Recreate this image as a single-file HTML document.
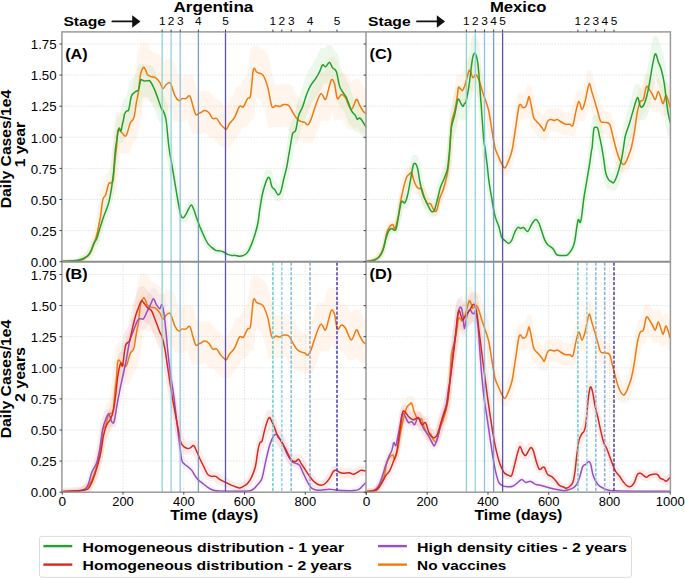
<!DOCTYPE html><html><head><meta charset="utf-8"><style>html,body{margin:0;padding:0;background:#fff;}svg{display:block;}text{font-family:"Liberation Sans", sans-serif;fill:#000;}</style></head><body>
<svg width="685" height="579" viewBox="0 0 685 579">
<rect x="0" y="0" width="685" height="579" fill="#fff"/>
<defs><filter id="bl" x="-5%" y="-5%" width="110%" height="110%"><feGaussianBlur stdDeviation="0.6"/></filter>
<clipPath id="cA"><rect x="61.9" y="31.9" width="304.1" height="229.79999999999998"/></clipPath>
<clipPath id="cB"><rect x="61.9" y="261.7" width="304.1" height="230.5"/></clipPath>
<clipPath id="cC"><rect x="366.0" y="31.9" width="304.4" height="229.79999999999998"/></clipPath>
<clipPath id="cD"><rect x="366.0" y="261.7" width="304.4" height="230.5"/></clipPath>
</defs>
<g stroke="#e3e3e3" stroke-width="0.9" stroke-dasharray="1.6,1.3" fill="none"><line x1="61.9" y1="230.6" x2="366.0" y2="230.6"/><line x1="61.9" y1="199.5" x2="366.0" y2="199.5"/><line x1="61.9" y1="168.4" x2="366.0" y2="168.4"/><line x1="61.9" y1="137.3" x2="366.0" y2="137.3"/><line x1="61.9" y1="106.2" x2="366.0" y2="106.2"/><line x1="61.9" y1="75.1" x2="366.0" y2="75.1"/><line x1="61.9" y1="44.0" x2="366.0" y2="44.0"/><line x1="366.0" y1="230.6" x2="670.4" y2="230.6"/><line x1="366.0" y1="199.5" x2="670.4" y2="199.5"/><line x1="366.0" y1="168.4" x2="670.4" y2="168.4"/><line x1="366.0" y1="137.3" x2="670.4" y2="137.3"/><line x1="366.0" y1="106.2" x2="670.4" y2="106.2"/><line x1="366.0" y1="75.1" x2="670.4" y2="75.1"/><line x1="366.0" y1="44.0" x2="670.4" y2="44.0"/><line x1="61.9" y1="461.1" x2="366.0" y2="461.1"/><line x1="61.9" y1="430.0" x2="366.0" y2="430.0"/><line x1="61.9" y1="398.9" x2="366.0" y2="398.9"/><line x1="61.9" y1="367.8" x2="366.0" y2="367.8"/><line x1="61.9" y1="336.7" x2="366.0" y2="336.7"/><line x1="61.9" y1="305.6" x2="366.0" y2="305.6"/><line x1="61.9" y1="274.5" x2="366.0" y2="274.5"/><line x1="366.0" y1="461.1" x2="670.4" y2="461.1"/><line x1="366.0" y1="430.0" x2="670.4" y2="430.0"/><line x1="366.0" y1="398.9" x2="670.4" y2="398.9"/><line x1="366.0" y1="367.8" x2="670.4" y2="367.8"/><line x1="366.0" y1="336.7" x2="670.4" y2="336.7"/><line x1="366.0" y1="305.6" x2="670.4" y2="305.6"/><line x1="366.0" y1="274.5" x2="670.4" y2="274.5"/><line x1="123.0" y1="261.7" x2="123.0" y2="492.2"/><line x1="183.8" y1="261.7" x2="183.8" y2="492.2"/><line x1="244.5" y1="261.7" x2="244.5" y2="492.2"/><line x1="305.3" y1="261.7" x2="305.3" y2="492.2"/><line x1="427.2" y1="261.7" x2="427.2" y2="492.2"/><line x1="488.0" y1="261.7" x2="488.0" y2="492.2"/><line x1="548.7" y1="261.7" x2="548.7" y2="492.2"/><line x1="609.5" y1="261.7" x2="609.5" y2="492.2"/></g>
<polygon points="62.0,259.1 63.0,259.1 64.0,259.0 65.0,259.0 66.0,259.0 67.0,258.9 68.0,258.9 69.0,258.8 70.0,258.8 71.0,258.7 72.0,258.7 73.0,258.7 74.0,258.6 75.0,258.6 76.0,258.5 77.0,258.5 78.0,257.9 79.0,257.3 80.0,256.7 81.0,256.0 82.0,255.4 83.0,254.7 84.0,254.0 85.0,253.2 86.0,251.4 87.0,249.7 88.0,248.0 89.0,245.9 90.0,243.0 91.0,240.0 92.0,237.1 93.0,233.7 94.0,229.4 95.0,224.8 96.0,219.1 97.0,213.3 98.0,207.0 99.0,198.9 100.0,192.1 101.0,189.7 102.0,187.1 103.0,184.0 104.0,180.2 105.0,176.3 106.0,173.5 107.0,172.7 108.0,172.0 109.0,170.6 110.0,168.1 111.0,159.2 112.0,148.1 113.0,139.5 114.0,127.4 115.0,116.8 116.0,114.6 117.0,113.3 118.0,112.2 119.0,112.0 120.0,112.2 121.0,112.3 122.0,112.4 123.0,113.6 124.0,114.7 125.0,113.1 126.0,109.6 127.0,106.5 128.0,104.1 129.0,102.6 130.0,100.7 131.0,98.2 132.0,92.4 133.0,85.7 134.0,79.8 135.0,73.9 136.0,66.1 137.0,57.0 138.1,51.2 139.1,48.0 140.1,44.5 141.1,43.5 142.1,43.2 143.1,42.9 144.1,42.8 145.1,43.0 146.1,43.2 147.1,43.5 148.1,44.9 149.1,46.8 150.1,49.3 151.1,50.8 152.1,51.3 153.1,51.8 154.1,52.4 155.1,52.8 156.1,53.1 157.1,53.5 158.1,53.9 159.1,54.7 160.1,55.9 161.1,57.2 162.1,58.4 163.1,60.3 164.1,61.0 165.1,60.2 166.1,59.6 167.1,59.5 168.1,59.4 169.1,59.4 170.1,59.4 171.1,59.6 172.1,59.9 173.1,61.0 174.1,62.4 175.1,65.6 176.1,68.6 177.1,71.6 178.1,74.4 179.1,75.7 180.1,76.9 181.1,77.1 182.1,77.0 183.1,76.8 184.1,76.2 185.1,75.5 186.1,74.9 187.1,74.8 188.1,74.7 189.1,74.6 190.1,74.7 191.1,75.1 192.1,75.5 193.1,76.3 194.1,79.8 195.1,83.4 196.1,86.8 197.1,89.7 198.1,92.6 199.1,92.0 200.1,91.5 201.1,90.9 202.1,90.7 203.1,90.7 204.1,90.6 205.1,90.6 206.1,90.6 207.1,90.7 208.1,90.8 209.1,91.4 210.1,92.0 211.1,92.7 212.1,93.8 213.1,95.4 214.1,96.9 215.1,98.4 216.1,99.3 217.1,99.4 218.1,99.6 219.1,99.8 220.1,100.5 221.1,102.2 222.1,103.8 223.1,105.5 224.1,106.8 225.1,107.9 226.1,106.5 227.1,104.8 228.1,103.4 229.1,102.0 230.1,100.6 231.1,99.3 232.1,97.4 233.1,95.0 234.1,92.7 235.1,90.2 236.1,87.7 237.1,86.6 238.1,86.4 239.1,86.1 240.1,86.0 241.1,84.7 242.1,82.7 243.1,80.7 244.1,78.6 245.1,77.0 246.1,75.7 247.1,74.5 248.1,68.4 249.1,59.4 250.1,50.4 251.1,47.7 252.1,46.6 253.1,45.5 254.1,45.3 255.1,45.4 256.1,45.5 257.1,45.5 258.1,46.3 259.1,47.0 260.1,47.6 261.1,48.2 262.1,48.7 263.1,49.1 264.1,49.7 265.1,51.0 266.1,52.3 267.1,53.9 268.1,57.1 269.1,60.5 270.1,63.8 271.1,67.7 272.1,72.8 273.1,77.5 274.1,82.2 275.1,84.8 276.1,84.8 277.1,84.9 278.1,84.9 279.1,84.7 280.1,84.2 281.1,83.9 282.1,83.8 283.1,83.7 284.1,83.7 285.1,83.7 286.1,83.8 287.1,83.8 288.1,84.0 289.1,84.3 290.1,84.7 291.2,85.1 292.2,86.1 293.2,88.0 294.2,89.9 295.2,91.8 296.2,93.6 297.2,95.3 298.2,97.0 299.2,98.6 300.2,99.9 301.2,100.7 302.2,101.4 303.2,102.2 304.2,102.8 305.2,103.1 306.2,103.4 307.2,102.6 308.2,100.2 309.2,97.0 310.2,93.9 311.2,90.6 312.2,87.4 313.2,84.3 314.2,81.2 315.2,78.1 316.2,75.8 317.2,74.2 318.2,72.5 319.2,72.2 320.2,72.1 321.2,71.9 322.2,72.0 323.2,72.2 324.2,72.3 325.2,69.2 326.2,65.6 327.2,61.9 328.2,58.2 329.2,57.7 330.2,57.3 331.2,56.9 332.2,56.8 333.2,57.0 334.2,57.2 335.2,57.6 336.2,59.5 337.2,61.5 338.2,65.4 339.2,70.4 340.2,72.8 341.2,72.7 342.2,72.7 343.2,72.8 344.2,72.9 345.2,73.4 346.2,74.3 347.2,75.3 348.2,76.3 349.2,78.3 350.2,80.6 351.2,82.8 352.2,81.2 353.2,79.0 354.2,78.7 355.2,78.5 356.2,78.3 357.2,78.4 358.2,78.6 359.2,78.8 360.2,80.3 361.2,82.2 362.2,84.1 363.2,86.0 364.2,87.9 365.2,89.8 366.2,91.6 366.2,133.2 365.2,133.3 364.2,133.4 363.2,133.4 362.2,133.0 361.2,132.5 360.2,132.1 359.2,130.5 358.2,128.9 357.2,127.4 356.2,127.1 355.2,128.8 354.2,130.1 353.2,129.9 352.2,129.7 351.2,129.5 350.2,129.7 349.2,130.0 348.2,130.2 347.2,128.4 346.2,126.7 345.2,124.8 344.2,122.9 343.2,121.0 342.2,119.3 341.2,119.8 340.2,119.6 339.2,119.5 338.2,119.4 337.2,119.4 336.2,120.1 335.2,120.7 334.2,120.8 333.2,115.8 332.2,111.1 331.2,114.4 330.2,117.3 329.2,120.2 328.2,121.5 327.2,121.1 326.2,120.7 325.2,120.5 324.2,120.7 323.2,120.9 322.2,121.1 321.2,120.8 320.2,123.4 319.2,126.0 318.2,128.5 317.2,131.0 316.2,133.7 315.2,136.3 314.2,139.0 313.2,140.9 312.2,142.1 311.2,143.2 310.2,143.4 309.2,143.2 308.2,143.0 307.2,143.0 306.2,143.1 305.2,143.2 304.2,143.3 303.2,142.4 302.2,141.6 301.2,141.1 300.2,140.9 299.2,140.7 298.2,140.6 297.2,140.1 296.2,139.5 295.2,139.0 294.2,138.4 293.2,137.4 292.2,136.1 291.2,134.7 290.1,133.4 289.1,132.0 288.1,130.3 287.1,128.6 286.1,126.9 285.1,126.2 284.1,126.7 283.1,127.2 282.1,127.1 281.1,127.0 280.1,127.0 279.1,127.0 278.1,127.0 277.1,127.0 276.1,127.1 275.1,127.2 274.1,127.1 273.1,127.1 272.1,127.1 271.1,127.5 270.1,128.1 269.1,128.6 268.1,125.7 267.1,121.3 266.1,116.9 265.1,112.5 264.1,109.6 263.1,107.0 262.1,104.3 261.1,101.6 260.1,100.4 259.1,99.5 258.1,98.5 257.1,98.1 256.1,97.9 255.1,106.0 254.1,115.0 253.1,120.7 252.1,120.6 251.1,120.6 250.1,121.2 249.1,123.1 248.1,125.0 247.1,126.8 246.1,127.8 245.1,127.6 244.1,127.4 243.1,127.2 242.1,128.1 241.1,130.3 240.1,132.5 239.1,134.6 238.1,136.6 237.1,138.1 236.1,139.0 235.1,139.9 234.1,140.9 233.1,142.0 232.1,143.3 231.1,144.9 230.1,146.5 229.1,147.8 228.1,147.6 227.1,147.4 226.1,147.2 225.1,147.3 224.1,147.4 223.1,147.5 222.1,146.9 221.1,146.2 220.1,145.5 219.1,144.7 218.1,143.8 217.1,142.8 216.1,141.3 215.1,139.8 214.1,138.3 213.1,137.7 212.1,137.8 211.1,138.0 210.1,138.2 209.1,137.4 208.1,136.0 207.1,134.6 206.1,133.2 205.1,132.3 204.1,132.5 203.1,132.9 202.1,133.3 201.1,133.7 200.1,133.9 199.1,134.2 198.1,134.2 197.1,134.1 196.1,134.1 195.1,134.3 194.1,134.7 193.1,135.0 192.1,133.4 191.1,130.8 190.1,128.2 189.1,125.1 188.1,121.9 187.1,120.3 186.1,120.2 185.1,120.2 184.1,120.7 183.1,121.4 182.1,122.1 181.1,122.0 180.1,121.9 179.1,121.8 178.1,121.9 177.1,122.1 176.1,122.2 175.1,121.5 174.1,120.5 173.1,119.6 172.1,118.7 171.1,116.5 170.1,113.7 169.1,110.9 168.1,109.4 167.1,110.6 166.1,111.9 165.1,111.7 164.1,111.5 163.1,111.4 162.1,111.6 161.1,111.8 160.1,112.0 159.1,110.6 158.1,108.9 157.1,107.0 156.1,105.4 155.1,104.5 154.1,103.5 153.1,102.5 152.1,101.8 151.1,101.6 150.1,101.4 149.1,101.2 148.1,100.9 147.1,100.5 146.1,100.3 145.1,100.1 144.1,98.8 143.1,103.7 142.1,111.8 141.1,118.6 140.1,123.2 139.1,127.7 138.1,133.5 137.0,138.4 136.0,140.0 135.0,140.8 134.0,141.2 133.0,143.0 132.0,145.7 131.0,149.0 130.0,152.2 129.0,153.6 128.0,153.7 127.0,153.3 126.0,153.1 125.0,153.0 124.0,153.2 123.0,153.3 122.0,153.4 121.0,152.5 120.0,158.0 119.0,169.1 118.0,177.4 117.0,187.3 116.0,194.7 115.0,196.2 114.0,195.9 113.0,195.2 112.0,195.3 111.0,197.7 110.0,201.3 109.0,204.9 108.0,206.9 107.0,208.2 106.0,209.5 105.0,215.4 104.0,222.6 103.0,228.2 102.0,232.8 101.0,237.2 100.0,240.8 99.0,244.1 98.0,246.5 97.0,248.7 96.0,251.0 95.0,253.3 94.0,254.9 93.0,256.2 92.0,257.5 91.0,259.0 90.0,259.6 89.0,260.0 88.0,260.4 87.0,260.9 86.0,261.4 85.0,261.7 84.0,261.7 83.0,261.7 82.0,261.7 81.0,261.7 80.0,261.7 79.0,261.7 78.0,261.7 77.0,261.7 76.0,261.7 75.0,261.7 74.0,261.7 73.0,261.7 72.0,261.7 71.0,261.7 70.0,261.7 69.0,261.7 68.0,261.7 67.0,261.7 66.0,261.7 65.0,261.7 64.0,261.7 63.0,261.7 62.0,261.7" fill="#ff7f0e" fill-opacity="0.075" clip-path="url(#cA)" filter="url(#bl)"/>
<polygon points="62.0,259.6 63.0,259.6 64.0,259.5 65.0,259.4 66.0,259.4 67.0,259.3 68.0,259.2 69.0,259.2 70.0,259.1 71.0,259.0 72.0,259.0 73.0,258.9 74.0,258.8 75.0,258.8 76.0,258.6 77.0,258.2 78.0,257.7 79.0,257.3 80.0,256.8 81.0,256.3 82.0,255.8 83.0,255.3 84.0,254.9 85.0,254.3 86.0,253.0 87.0,251.7 88.0,250.3 89.0,248.7 90.0,245.9 91.0,243.1 92.0,240.5 93.0,238.6 94.0,236.8 95.0,234.6 96.0,231.2 97.0,227.7 98.0,224.1 99.0,220.8 100.0,217.5 101.0,214.2 102.0,211.0 103.0,208.0 104.0,204.9 105.0,201.9 106.0,198.9 107.0,195.1 108.0,189.6 109.0,184.0 110.0,177.4 111.0,169.0 112.0,159.1 113.0,146.1 114.0,136.1 115.0,128.6 116.0,120.7 117.0,117.1 118.0,116.5 119.0,116.3 120.0,114.2 121.0,109.8 122.0,104.2 123.0,100.5 124.0,98.6 125.0,97.5 126.0,97.0 127.0,94.5 128.0,89.9 129.0,84.6 130.0,81.0 131.0,79.6 132.0,78.3 133.0,77.2 134.0,76.3 135.0,75.6 136.0,74.9 137.0,72.0 138.1,67.5 139.1,64.7 140.1,64.2 141.1,64.0 142.1,64.0 143.1,64.0 144.1,64.0 145.1,64.5 146.1,64.8 147.1,64.8 148.1,64.8 149.1,64.8 150.1,65.0 151.1,65.4 152.1,65.9 153.1,67.3 154.1,69.5 155.1,71.7 156.1,73.9 157.1,76.2 158.1,79.0 159.1,82.0 160.1,85.0 161.1,88.1 162.1,91.0 163.1,94.0 164.1,96.0 165.1,97.6 166.1,100.9 167.1,104.6 168.1,108.8 169.1,119.0 170.1,129.0 171.1,138.4 172.1,144.8 173.1,151.3 174.1,157.7 175.1,164.2 176.1,170.6 177.1,177.1 178.1,183.5 179.1,189.9 180.1,196.1 181.1,201.4 182.1,206.4 183.1,210.5 184.1,208.9 185.1,206.8 186.1,204.7 187.1,202.7 188.1,201.2 189.1,199.7 190.1,199.5 191.1,199.4 192.1,199.5 193.1,199.7 194.1,200.7 195.1,202.9 196.1,205.3 197.1,208.6 198.1,211.8 199.1,214.9 200.1,217.7 201.1,220.6 202.1,223.3 203.1,225.8 204.1,228.3 205.1,230.7 206.1,233.1 207.1,235.2 208.1,237.3 209.1,239.4 210.1,241.0 211.1,242.1 212.1,243.2 213.1,244.2 214.1,245.2 215.1,246.0 216.1,246.8 217.1,247.6 218.1,248.1 219.1,248.2 220.1,248.3 221.1,248.4 222.1,248.6 223.1,249.0 224.1,249.3 225.1,249.6 226.1,250.1 227.1,250.8 228.1,251.4 229.1,252.1 230.1,252.5 231.1,252.8 232.1,253.0 233.1,253.3 234.1,253.4 235.1,253.4 236.1,253.4 237.1,253.4 238.1,253.6 239.1,253.8 240.1,253.8 241.1,253.5 242.1,253.0 243.1,252.2 244.1,251.4 245.1,250.6 246.1,249.0 247.1,246.9 248.1,244.8 249.1,242.6 250.1,239.9 251.1,236.8 252.1,233.7 253.1,230.5 254.1,226.6 255.1,222.3 256.1,217.5 257.1,210.0 258.1,202.5 259.1,195.9 260.1,189.6 261.1,185.4 262.1,181.2 263.1,177.3 264.1,174.6 265.1,171.9 266.1,170.0 267.1,169.9 268.1,169.7 269.1,169.8 270.1,169.9 271.1,170.7 272.1,172.3 273.1,176.3 274.1,179.6 275.1,180.7 276.1,181.8 277.1,183.1 278.1,184.9 279.1,183.3 280.1,178.9 281.1,174.4 282.1,169.9 283.1,165.6 284.1,161.2 285.1,156.3 286.1,149.9 287.1,143.7 288.1,137.6 289.1,131.6 290.1,125.7 291.2,121.8 292.2,120.3 293.2,119.0 294.2,116.2 295.2,111.1 296.2,105.9 297.2,101.8 298.2,99.2 299.2,96.6 300.2,94.2 301.2,91.4 302.2,88.2 303.2,84.9 304.2,81.6 305.2,78.7 306.2,76.3 307.2,73.8 308.2,71.4 309.2,69.5 310.2,67.9 311.2,66.4 312.2,64.9 313.2,63.4 314.2,61.7 315.2,59.9 316.2,58.0 317.2,56.1 318.2,53.8 319.2,51.3 320.2,48.8 321.2,48.2 322.2,48.1 323.2,48.0 324.2,48.1 325.2,47.8 326.2,46.6 327.2,45.3 328.2,45.2 329.2,45.1 330.2,45.2 331.2,45.4 332.2,46.4 333.2,48.3 334.2,50.2 335.2,51.6 336.2,52.7 337.2,54.0 338.2,55.4 339.2,59.6 340.2,64.5 341.2,69.3 342.2,72.0 343.2,74.2 344.2,76.3 345.2,78.0 346.2,79.6 347.2,81.2 348.2,82.9 349.2,85.5 350.2,88.4 351.2,91.2 352.2,94.0 353.2,96.7 354.2,98.2 355.2,99.5 356.2,101.0 357.2,102.4 358.2,104.3 359.2,105.5 360.2,105.5 361.2,105.6 362.2,105.7 363.2,107.1 364.2,108.8 365.2,110.4 366.2,112.0 366.2,139.6 365.2,139.7 364.2,139.8 363.2,138.4 362.2,137.0 361.2,135.6 360.2,134.2 359.2,132.7 358.2,132.1 357.2,132.1 356.2,132.2 355.2,132.4 354.2,130.5 353.2,128.7 352.2,127.5 351.2,126.4 350.2,125.4 349.2,124.2 348.2,121.7 347.2,119.3 346.2,116.9 345.2,114.4 344.2,112.1 343.2,110.7 342.2,109.4 341.2,108.1 340.2,106.6 339.2,104.8 338.2,103.2 337.2,101.0 336.2,96.7 335.2,92.1 334.2,88.4 333.2,87.4 332.2,86.5 331.2,85.6 330.2,84.5 329.2,82.7 328.2,83.4 327.2,83.8 326.2,83.7 325.2,83.7 324.2,83.7 323.2,85.2 322.2,87.5 321.2,89.5 320.2,91.0 319.2,92.6 318.2,94.2 317.2,95.7 316.2,96.9 315.2,98.2 314.2,99.4 313.2,100.7 312.2,102.3 311.2,104.4 310.2,106.5 309.2,108.6 308.2,111.0 307.2,113.9 306.2,116.8 305.2,119.6 304.2,122.0 303.2,124.0 302.2,126.0 301.2,128.0 300.2,131.6 299.2,136.4 298.2,141.0 297.2,143.4 296.2,144.0 295.2,144.8 294.2,148.2 293.2,153.6 292.2,158.8 291.2,164.0 290.1,169.5 289.1,175.0 288.1,179.2 287.1,182.7 286.1,186.3 285.1,190.2 284.1,194.2 283.1,198.1 282.1,199.9 281.1,200.6 280.1,201.5 279.1,201.4 278.1,201.3 277.1,201.4 276.1,201.5 275.1,200.7 274.1,199.1 273.1,197.5 272.1,196.4 271.1,195.7 270.1,195.0 269.1,191.9 268.1,190.2 267.1,192.4 266.1,195.8 265.1,199.4 264.1,202.9 263.1,208.3 262.1,214.0 261.1,220.6 260.1,227.4 259.1,231.3 258.1,234.8 257.1,238.2 256.1,240.8 255.1,243.4 254.1,246.1 253.1,248.4 252.1,250.2 251.1,252.0 250.1,253.8 249.1,255.2 248.1,255.8 247.1,256.4 246.1,257.1 245.1,257.6 244.1,257.8 243.1,257.9 242.1,258.1 241.1,258.2 240.1,258.2 239.1,258.2 238.1,258.2 237.1,258.2 236.1,258.0 235.1,257.8 234.1,257.5 233.1,257.4 232.1,257.4 231.1,257.4 230.1,257.4 229.1,257.3 228.1,257.1 227.1,256.9 226.1,256.7 225.1,256.3 224.1,255.8 223.1,255.2 222.1,254.6 221.1,254.2 220.1,253.9 219.1,253.6 218.1,253.3 217.1,253.1 216.1,253.0 215.1,253.0 214.1,252.9 213.1,252.5 212.1,251.8 211.1,251.1 210.1,250.5 209.1,249.7 208.1,248.7 207.1,247.9 206.1,247.0 205.1,245.6 204.1,243.8 203.1,242.0 202.1,240.2 201.1,238.2 200.1,236.1 199.1,233.9 198.1,231.8 197.1,229.5 196.1,227.1 195.1,224.7 194.1,222.1 193.1,219.2 192.1,216.4 191.1,214.2 190.1,215.9 189.1,217.8 188.1,219.7 187.1,221.0 186.1,222.2 185.1,222.5 184.1,222.4 183.1,222.3 182.1,222.4 181.1,222.5 180.1,222.0 179.1,221.6 178.1,217.8 177.1,213.3 176.1,208.8 175.1,203.5 174.1,198.0 173.1,192.5 172.1,187.0 171.1,181.5 170.1,176.0 169.1,170.6 168.1,165.3 167.1,160.1 166.1,152.0 165.1,142.7 164.1,133.5 163.1,130.3 162.1,127.4 161.1,124.5 160.1,123.4 159.1,121.8 158.1,119.2 157.1,116.7 156.1,114.1 155.1,111.4 154.1,108.8 153.1,106.4 152.1,104.5 151.1,102.7 150.1,100.8 149.1,98.8 148.1,97.5 147.1,97.2 146.1,97.0 145.1,97.0 144.1,97.0 143.1,97.0 142.1,98.8 141.1,103.2 140.1,105.8 139.1,106.1 138.1,106.5 137.0,107.3 136.0,108.3 135.0,109.2 134.0,110.1 133.0,113.3 132.0,118.3 131.0,122.7 130.0,124.7 129.0,124.6 128.0,125.4 127.0,126.7 126.0,130.0 125.0,135.2 124.0,139.4 123.0,143.2 122.0,142.8 121.0,142.5 120.0,143.6 119.0,150.9 118.0,157.1 117.0,165.8 116.0,177.6 115.0,186.3 114.0,193.2 113.0,198.7 112.0,203.3 111.0,208.2 110.0,211.3 109.0,213.7 108.0,216.2 107.0,218.8 106.0,221.3 105.0,224.1 104.0,226.9 103.0,229.7 102.0,232.5 101.0,235.5 100.0,238.6 99.0,241.7 98.0,243.5 97.0,244.8 96.0,246.3 95.0,248.6 94.0,251.1 93.0,253.6 92.0,255.0 91.0,256.0 90.0,257.1 89.0,258.3 88.0,258.7 87.0,259.1 86.0,259.5 85.0,259.9 84.0,260.3 83.0,260.7 82.0,261.1 81.0,261.5 80.0,261.7 79.0,261.7 78.0,261.7 77.0,261.7 76.0,261.7 75.0,261.7 74.0,261.7 73.0,261.7 72.0,261.7 71.0,261.7 70.0,261.7 69.0,261.7 68.0,261.7 67.0,261.7 66.0,261.7 65.0,261.7 64.0,261.7 63.0,261.7 62.0,261.7" fill="#2ca02c" fill-opacity="0.075" clip-path="url(#cA)" filter="url(#bl)"/>
<polygon points="62.0,489.6 63.0,489.6 64.0,489.5 65.0,489.5 66.0,489.5 67.0,489.4 68.0,489.4 69.0,489.3 70.0,489.3 71.0,489.2 72.0,489.2 73.0,489.2 74.0,489.1 75.0,489.1 76.0,489.0 77.0,489.0 78.0,488.4 79.0,487.8 80.0,487.2 81.0,486.5 82.0,485.9 83.0,485.2 84.0,484.5 85.0,483.7 86.0,481.9 87.0,480.2 88.0,478.5 89.0,476.4 90.0,473.5 91.0,470.5 92.0,467.6 93.0,464.2 94.0,459.9 95.0,455.3 96.0,449.6 97.0,443.8 98.0,437.5 99.0,429.4 100.0,422.6 101.0,420.2 102.0,417.6 103.0,414.5 104.0,410.7 105.0,406.8 106.0,404.0 107.0,403.2 108.0,402.5 109.0,401.1 110.0,398.6 111.0,389.7 112.0,378.6 113.0,370.0 114.0,357.9 115.0,347.3 116.0,345.1 117.0,343.8 118.0,342.7 119.0,342.5 120.0,342.7 121.0,342.8 122.0,342.9 123.0,344.1 124.0,345.2 125.0,343.6 126.0,340.1 127.0,337.0 128.0,334.6 129.0,333.1 130.0,331.2 131.0,328.7 132.0,322.9 133.0,316.2 134.0,310.3 135.0,304.4 136.0,296.6 137.0,287.5 138.1,281.7 139.1,278.5 140.1,275.0 141.1,274.0 142.1,273.7 143.1,273.4 144.1,273.3 145.1,273.5 146.1,273.7 147.1,274.0 148.1,275.4 149.1,277.3 150.1,279.8 151.1,281.3 152.1,281.8 153.1,282.3 154.1,282.9 155.1,283.3 156.1,283.6 157.1,284.0 158.1,284.4 159.1,285.2 160.1,286.4 161.1,287.7 162.1,288.9 163.1,290.8 164.1,291.5 165.1,290.7 166.1,290.1 167.1,290.0 168.1,289.9 169.1,289.9 170.1,289.9 171.1,290.1 172.1,290.4 173.1,291.5 174.1,292.9 175.1,296.1 176.1,299.1 177.1,302.1 178.1,304.9 179.1,306.2 180.1,307.4 181.1,307.6 182.1,307.5 183.1,307.3 184.1,306.7 185.1,306.0 186.1,305.4 187.1,305.3 188.1,305.2 189.1,305.1 190.1,305.2 191.1,305.6 192.1,306.0 193.1,306.8 194.1,310.3 195.1,313.9 196.1,317.3 197.1,320.2 198.1,323.1 199.1,322.5 200.1,322.0 201.1,321.4 202.1,321.2 203.1,321.2 204.1,321.1 205.1,321.1 206.1,321.1 207.1,321.2 208.1,321.3 209.1,321.9 210.1,322.5 211.1,323.2 212.1,324.3 213.1,325.9 214.1,327.4 215.1,328.9 216.1,329.8 217.1,329.9 218.1,330.1 219.1,330.3 220.1,331.0 221.1,332.7 222.1,334.3 223.1,336.0 224.1,337.3 225.1,338.4 226.1,337.0 227.1,335.3 228.1,333.9 229.1,332.5 230.1,331.1 231.1,329.8 232.1,327.9 233.1,325.5 234.1,323.2 235.1,320.7 236.1,318.2 237.1,317.1 238.1,316.9 239.1,316.6 240.1,316.5 241.1,315.2 242.1,313.2 243.1,311.2 244.1,309.1 245.1,307.5 246.1,306.2 247.1,305.0 248.1,298.9 249.1,289.9 250.1,280.9 251.1,278.2 252.1,277.1 253.1,276.0 254.1,275.8 255.1,275.9 256.1,276.0 257.1,276.0 258.1,276.8 259.1,277.5 260.1,278.1 261.1,278.7 262.1,279.2 263.1,279.6 264.1,280.2 265.1,281.5 266.1,282.8 267.1,284.4 268.1,287.6 269.1,291.0 270.1,294.3 271.1,298.2 272.1,303.3 273.1,308.0 274.1,312.7 275.1,315.3 276.1,315.3 277.1,315.4 278.1,315.4 279.1,315.2 280.1,314.7 281.1,314.4 282.1,314.3 283.1,314.2 284.1,314.2 285.1,314.2 286.1,314.3 287.1,314.3 288.1,314.5 289.1,314.8 290.1,315.2 291.2,315.6 292.2,316.6 293.2,318.5 294.2,320.4 295.2,322.3 296.2,324.1 297.2,325.8 298.2,327.5 299.2,329.1 300.2,330.4 301.2,331.2 302.2,331.9 303.2,332.7 304.2,333.3 305.2,333.6 306.2,333.9 307.2,333.1 308.2,330.7 309.2,327.5 310.2,324.4 311.2,321.1 312.2,317.9 313.2,314.8 314.2,311.7 315.2,308.6 316.2,306.3 317.2,304.7 318.2,303.0 319.2,302.7 320.2,302.6 321.2,302.4 322.2,302.5 323.2,302.7 324.2,302.8 325.2,299.7 326.2,296.1 327.2,292.4 328.2,288.7 329.2,288.2 330.2,287.8 331.2,287.4 332.2,287.3 333.2,287.5 334.2,287.7 335.2,288.1 336.2,290.0 337.2,292.0 338.2,295.9 339.2,300.9 340.2,303.3 341.2,303.2 342.2,303.2 343.2,303.3 344.2,303.4 345.2,303.9 346.2,304.8 347.2,305.8 348.2,306.8 349.2,308.8 350.2,311.1 351.2,313.3 352.2,311.7 353.2,309.5 354.2,309.2 355.2,309.0 356.2,308.8 357.2,308.9 358.2,309.1 359.2,309.3 360.2,310.8 361.2,312.7 362.2,314.6 363.2,316.5 364.2,318.4 365.2,320.3 366.2,322.1 366.2,363.7 365.2,363.8 364.2,363.9 363.2,363.9 362.2,363.5 361.2,363.0 360.2,362.6 359.2,361.0 358.2,359.4 357.2,357.9 356.2,357.6 355.2,359.3 354.2,360.6 353.2,360.4 352.2,360.2 351.2,360.0 350.2,360.2 349.2,360.5 348.2,360.7 347.2,358.9 346.2,357.2 345.2,355.3 344.2,353.4 343.2,351.5 342.2,349.8 341.2,350.3 340.2,350.1 339.2,350.0 338.2,349.9 337.2,349.9 336.2,350.6 335.2,351.2 334.2,351.3 333.2,346.3 332.2,341.6 331.2,344.9 330.2,347.8 329.2,350.7 328.2,352.0 327.2,351.6 326.2,351.2 325.2,351.0 324.2,351.2 323.2,351.4 322.2,351.6 321.2,351.3 320.2,353.9 319.2,356.5 318.2,359.0 317.2,361.5 316.2,364.2 315.2,366.8 314.2,369.5 313.2,371.4 312.2,372.6 311.2,373.7 310.2,373.9 309.2,373.7 308.2,373.5 307.2,373.5 306.2,373.6 305.2,373.7 304.2,373.8 303.2,372.9 302.2,372.1 301.2,371.6 300.2,371.4 299.2,371.2 298.2,371.1 297.2,370.6 296.2,370.0 295.2,369.5 294.2,368.9 293.2,367.9 292.2,366.6 291.2,365.2 290.1,363.9 289.1,362.5 288.1,360.8 287.1,359.1 286.1,357.4 285.1,356.7 284.1,357.2 283.1,357.7 282.1,357.6 281.1,357.5 280.1,357.5 279.1,357.5 278.1,357.5 277.1,357.5 276.1,357.6 275.1,357.7 274.1,357.6 273.1,357.6 272.1,357.6 271.1,358.0 270.1,358.6 269.1,359.1 268.1,356.2 267.1,351.8 266.1,347.4 265.1,343.0 264.1,340.1 263.1,337.5 262.1,334.8 261.1,332.1 260.1,330.9 259.1,330.0 258.1,329.0 257.1,328.6 256.1,328.4 255.1,336.5 254.1,345.5 253.1,351.2 252.1,351.1 251.1,351.1 250.1,351.7 249.1,353.6 248.1,355.5 247.1,357.3 246.1,358.3 245.1,358.1 244.1,357.9 243.1,357.7 242.1,358.6 241.1,360.8 240.1,363.0 239.1,365.1 238.1,367.1 237.1,368.6 236.1,369.5 235.1,370.4 234.1,371.4 233.1,372.5 232.1,373.8 231.1,375.4 230.1,377.0 229.1,378.3 228.1,378.1 227.1,377.9 226.1,377.7 225.1,377.8 224.1,377.9 223.1,378.0 222.1,377.4 221.1,376.7 220.1,376.0 219.1,375.2 218.1,374.3 217.1,373.3 216.1,371.8 215.1,370.3 214.1,368.8 213.1,368.2 212.1,368.3 211.1,368.5 210.1,368.7 209.1,367.9 208.1,366.5 207.1,365.1 206.1,363.7 205.1,362.8 204.1,363.0 203.1,363.4 202.1,363.8 201.1,364.2 200.1,364.4 199.1,364.7 198.1,364.7 197.1,364.6 196.1,364.6 195.1,364.8 194.1,365.2 193.1,365.5 192.1,363.9 191.1,361.3 190.1,358.7 189.1,355.6 188.1,352.4 187.1,350.8 186.1,350.7 185.1,350.7 184.1,351.2 183.1,351.9 182.1,352.6 181.1,352.5 180.1,352.4 179.1,352.3 178.1,352.4 177.1,352.6 176.1,352.7 175.1,352.0 174.1,351.0 173.1,350.1 172.1,349.2 171.1,347.0 170.1,344.2 169.1,341.4 168.1,339.9 167.1,341.1 166.1,342.4 165.1,342.2 164.1,342.0 163.1,341.9 162.1,342.1 161.1,342.3 160.1,342.5 159.1,341.1 158.1,339.4 157.1,337.5 156.1,335.9 155.1,335.0 154.1,334.0 153.1,333.0 152.1,332.3 151.1,332.1 150.1,331.9 149.1,331.7 148.1,331.4 147.1,331.0 146.1,330.8 145.1,330.6 144.1,329.3 143.1,334.2 142.1,342.3 141.1,349.1 140.1,353.7 139.1,358.2 138.1,364.0 137.0,368.9 136.0,370.5 135.0,371.3 134.0,371.7 133.0,373.5 132.0,376.2 131.0,379.5 130.0,382.7 129.0,384.1 128.0,384.2 127.0,383.8 126.0,383.6 125.0,383.5 124.0,383.7 123.0,383.8 122.0,383.9 121.0,383.0 120.0,388.5 119.0,399.6 118.0,407.9 117.0,417.8 116.0,425.2 115.0,426.7 114.0,426.4 113.0,425.7 112.0,425.8 111.0,428.2 110.0,431.8 109.0,435.4 108.0,437.4 107.0,438.7 106.0,440.0 105.0,445.9 104.0,453.1 103.0,458.7 102.0,463.3 101.0,467.7 100.0,471.3 99.0,474.6 98.0,477.0 97.0,479.2 96.0,481.5 95.0,483.8 94.0,485.4 93.0,486.7 92.0,488.0 91.0,489.5 90.0,490.1 89.0,490.5 88.0,490.9 87.0,491.4 86.0,491.9 85.0,492.2 84.0,492.2 83.0,492.2 82.0,492.2 81.0,492.2 80.0,492.2 79.0,492.2 78.0,492.2 77.0,492.2 76.0,492.2 75.0,492.2 74.0,492.2 73.0,492.2 72.0,492.2 71.0,492.2 70.0,492.2 69.0,492.2 68.0,492.2 67.0,492.2 66.0,492.2 65.0,492.2 64.0,492.2 63.0,492.2 62.0,492.2" fill="#ff7f0e" fill-opacity="0.075" clip-path="url(#cB)" filter="url(#bl)"/>
<polygon points="62.0,487.8 63.0,487.8 64.0,487.7 65.0,487.7 66.0,487.6 67.0,487.6 68.0,487.5 69.0,487.4 70.0,487.4 71.0,487.3 72.0,487.3 73.0,487.2 74.0,487.2 75.0,487.1 76.0,487.0 77.0,487.0 78.0,486.9 79.0,486.9 80.0,486.8 81.0,486.7 82.0,486.6 83.0,485.9 84.0,485.2 85.0,484.5 86.0,483.8 87.0,483.1 88.0,482.0 89.0,479.6 90.0,477.1 91.0,474.6 92.0,472.1 93.0,469.4 94.0,465.9 95.0,462.5 96.0,458.8 97.0,454.6 98.0,450.4 99.0,445.7 100.0,439.3 101.0,432.9 102.0,427.3 103.0,423.6 104.0,419.9 105.0,417.0 106.0,415.3 107.0,413.7 108.0,412.1 109.0,409.9 110.0,406.5 111.0,403.1 112.0,398.3 113.0,391.2 114.0,383.3 115.0,373.9 116.0,365.9 117.0,360.7 118.0,355.5 119.0,353.1 120.0,352.8 121.0,351.3 122.0,344.7 123.0,337.9 124.0,333.3 125.0,331.6 126.0,330.1 127.0,328.8 128.0,326.1 129.0,321.7 130.0,317.3 131.0,312.9 132.0,308.6 133.0,304.4 134.0,300.7 135.0,297.7 136.0,294.8 137.0,292.1 138.1,289.6 139.1,287.2 140.1,286.6 141.1,286.4 142.1,286.4 143.1,286.5 144.1,286.5 145.1,287.6 146.1,288.7 147.1,289.9 148.1,291.3 149.1,292.6 150.1,293.7 151.1,294.5 152.1,295.3 153.1,296.2 154.1,298.0 155.1,300.6 156.1,303.2 157.1,305.9 158.1,308.7 159.1,311.5 160.1,314.3 161.1,317.1 162.1,319.9 163.1,322.2 164.1,324.6 165.1,329.2 166.1,333.9 167.1,338.7 168.1,345.7 169.1,352.8 170.1,359.8 171.1,366.7 172.1,373.7 173.1,380.5 174.1,387.2 175.1,393.0 176.1,398.8 177.1,404.6 178.1,410.4 179.1,416.0 180.1,421.6 181.1,427.1 182.1,432.1 183.1,436.5 184.1,437.9 185.1,439.3 186.1,440.5 187.1,441.1 188.1,441.6 189.1,441.3 190.1,440.6 191.1,439.9 192.1,439.8 193.1,439.8 194.1,439.8 195.1,439.9 196.1,440.2 197.1,442.3 198.1,444.4 199.1,446.6 200.1,449.1 201.1,451.5 202.1,453.9 203.1,456.0 204.1,458.2 205.1,460.4 206.1,462.5 207.1,464.6 208.1,466.7 209.1,468.7 210.1,470.1 211.1,470.6 212.1,471.2 213.1,471.7 214.1,472.0 215.1,472.0 216.1,472.0 217.1,472.0 218.1,472.4 219.1,473.2 220.1,474.0 221.1,474.8 222.1,475.5 223.1,476.0 224.1,476.5 225.1,477.1 226.1,477.6 227.1,478.1 228.1,478.6 229.1,479.2 230.1,479.7 231.1,480.2 232.1,480.8 233.1,481.3 234.1,481.7 235.1,482.1 236.1,482.4 237.1,482.8 238.1,483.1 239.1,483.4 240.1,483.1 241.1,482.7 242.1,482.0 243.1,481.3 244.1,480.5 245.1,479.7 246.1,478.5 247.1,477.0 248.1,475.4 249.1,473.8 250.1,471.4 251.1,468.5 252.1,465.6 253.1,462.6 254.1,457.1 255.1,450.5 256.1,444.2 257.1,440.1 258.1,436.3 259.1,435.4 260.1,434.0 261.1,429.8 262.1,425.6 263.1,421.4 264.1,418.3 265.1,415.3 266.1,412.3 267.1,410.3 268.1,410.2 269.1,410.1 270.1,410.1 271.1,410.2 272.1,411.7 273.1,413.1 274.1,414.8 275.1,417.3 276.1,419.7 277.1,422.3 278.1,425.1 279.1,427.8 280.1,430.3 281.1,431.7 282.1,433.1 283.1,434.7 284.1,436.5 285.1,438.3 286.1,440.2 287.1,442.3 288.1,444.4 289.1,446.5 290.1,448.5 291.2,450.4 292.2,452.2 293.2,453.9 294.2,455.1 295.2,455.1 296.2,454.4 297.2,454.4 298.2,454.3 299.2,454.3 300.2,454.4 301.2,454.9 302.2,456.7 303.2,458.5 304.2,460.1 305.2,461.7 306.2,463.3 307.2,464.8 308.2,466.4 309.2,468.1 310.2,469.7 311.2,471.3 312.2,472.7 313.2,474.1 314.2,475.4 315.2,476.7 316.2,477.7 317.2,478.4 318.2,479.2 319.2,479.9 320.2,480.4 321.2,480.4 322.2,479.9 323.2,479.4 324.2,478.4 325.2,477.1 326.2,475.8 327.2,474.5 328.2,472.9 329.2,471.1 330.2,469.2 331.2,467.4 332.2,466.5 333.2,466.0 334.2,465.6 335.2,465.6 336.2,465.6 337.2,465.6 338.2,465.6 339.2,466.1 340.2,466.8 341.2,467.5 342.2,467.8 343.2,468.1 344.2,468.4 345.2,468.3 346.2,468.2 347.2,468.1 348.2,468.0 349.2,468.0 350.2,468.1 351.2,468.1 352.2,468.5 353.2,468.8 354.2,468.3 355.2,467.7 356.2,467.2 357.2,466.7 358.2,466.1 359.2,465.6 360.2,465.6 361.2,465.5 362.2,465.5 363.2,465.6 364.2,465.7 365.2,465.9 366.2,466.1 366.2,476.1 365.2,476.1 364.2,476.1 363.2,475.9 362.2,475.7 361.2,476.2 360.2,476.6 359.2,477.1 358.2,477.6 357.2,478.0 356.2,478.5 355.2,478.9 354.2,478.9 353.2,478.8 352.2,478.9 351.2,478.9 350.2,478.5 349.2,478.1 348.2,477.7 347.2,477.8 346.2,477.9 345.2,477.9 344.2,477.9 343.2,477.9 342.2,477.9 341.2,477.9 340.2,477.7 339.2,477.4 338.2,477.2 337.2,476.9 336.2,476.3 335.2,476.7 334.2,478.4 333.2,480.1 332.2,481.7 331.2,483.2 330.2,484.3 329.2,485.5 328.2,486.6 327.2,487.5 326.2,488.0 325.2,488.4 324.2,488.9 323.2,489.1 322.2,489.1 321.2,489.0 320.2,489.1 319.2,489.1 318.2,488.8 317.2,488.6 316.2,488.4 315.2,488.0 314.2,487.3 313.2,486.6 312.2,486.0 311.2,485.1 310.2,483.9 309.2,482.7 308.2,481.6 307.2,480.3 306.2,478.9 305.2,477.4 304.2,476.0 303.2,474.5 302.2,473.2 301.2,471.8 300.2,470.4 299.2,468.9 298.2,467.3 297.2,466.7 296.2,466.6 295.2,466.6 294.2,466.6 293.2,466.6 292.2,466.4 291.2,466.2 290.1,466.1 289.1,465.0 288.1,463.3 287.1,461.7 286.1,460.1 285.1,458.3 284.1,456.5 283.1,454.6 282.1,452.7 281.1,451.0 280.1,449.4 279.1,447.8 278.1,446.4 277.1,445.2 276.1,444.0 275.1,441.9 274.1,439.3 273.1,436.8 272.1,434.5 271.1,432.3 270.1,430.1 269.1,430.6 268.1,433.3 267.1,435.9 266.1,439.7 265.1,443.7 264.1,447.6 263.1,448.5 262.1,449.0 261.1,452.3 260.1,456.0 259.1,461.8 258.1,467.9 257.1,473.0 256.1,475.4 255.1,477.9 254.1,480.5 253.1,482.6 252.1,484.0 251.1,485.3 250.1,486.7 249.1,487.8 248.1,488.5 247.1,489.1 246.1,489.8 245.1,490.4 244.1,490.7 243.1,491.1 242.1,491.5 241.1,491.6 240.1,491.6 239.1,491.5 238.1,491.6 237.1,491.6 236.1,491.3 235.1,491.0 234.1,490.7 233.1,490.4 232.1,490.1 231.1,489.8 230.1,489.5 229.1,489.1 228.1,488.7 227.1,488.2 226.1,487.7 225.1,487.3 224.1,486.8 223.1,486.3 222.1,485.8 221.1,485.4 220.1,484.9 219.1,484.4 218.1,484.0 217.1,483.4 216.1,482.7 215.1,481.9 214.1,481.2 213.1,480.8 212.1,480.8 211.1,480.9 210.1,480.9 209.1,480.6 208.1,480.2 207.1,479.7 206.1,479.4 205.1,478.1 204.1,476.2 203.1,474.4 202.1,472.5 201.1,470.6 200.1,468.7 199.1,466.8 198.1,464.9 197.1,462.8 196.1,460.6 195.1,458.4 194.1,456.4 193.1,454.4 192.1,454.1 191.1,454.4 190.1,454.7 189.1,454.6 188.1,454.6 187.1,454.6 186.1,454.7 185.1,454.4 184.1,453.9 183.1,453.5 182.1,453.1 181.1,452.0 180.1,450.9 179.1,449.9 178.1,445.9 177.1,441.2 176.1,436.3 175.1,431.3 174.1,426.4 173.1,421.2 172.1,416.1 171.1,411.0 170.1,405.9 169.1,399.9 168.1,393.8 167.1,387.6 166.1,381.5 165.1,375.3 164.1,368.9 163.1,362.5 162.1,358.3 161.1,354.1 160.1,350.0 159.1,348.0 158.1,346.1 157.1,343.6 156.1,341.1 155.1,338.6 154.1,336.1 153.1,333.6 152.1,331.2 151.1,328.9 150.1,326.5 149.1,324.9 148.1,324.2 147.1,323.5 146.1,322.8 145.1,321.9 144.1,320.7 143.1,319.4 142.1,319.1 141.1,321.4 140.1,323.7 139.1,326.3 138.1,329.0 137.0,332.2 136.0,336.0 135.0,339.8 134.0,343.7 133.0,347.8 132.0,351.8 131.0,354.2 130.0,355.2 129.0,356.3 128.0,357.4 127.0,361.6 126.0,368.2 125.0,374.6 124.0,376.5 123.0,376.1 122.0,377.2 121.0,381.9 120.0,386.5 119.0,393.7 118.0,402.4 117.0,409.6 116.0,416.0 115.0,420.1 114.0,423.0 113.0,426.1 112.0,428.0 111.0,429.2 110.0,430.6 109.0,432.0 108.0,434.6 107.0,437.9 106.0,441.0 105.0,446.0 104.0,452.0 103.0,457.8 102.0,461.9 101.0,465.6 100.0,469.3 99.0,472.5 98.0,475.6 97.0,478.7 96.0,481.1 95.0,483.2 94.0,485.5 93.0,487.7 92.0,490.0 91.0,490.9 90.0,491.4 89.0,492.0 88.0,492.2 87.0,492.2 86.0,492.2 85.0,492.2 84.0,492.2 83.0,492.2 82.0,492.2 81.0,492.2 80.0,492.2 79.0,492.2 78.0,492.2 77.0,492.2 76.0,492.2 75.0,492.2 74.0,492.2 73.0,492.2 72.0,492.2 71.0,492.2 70.0,492.2 69.0,492.2 68.0,492.2 67.0,492.2 66.0,492.2 65.0,492.2 64.0,492.2 63.0,492.2 62.0,492.2" fill="#d62728" fill-opacity="0.075" clip-path="url(#cB)" filter="url(#bl)"/>
<polygon points="62.0,489.5 63.0,489.5 64.0,489.4 65.0,489.3 66.0,489.2 67.0,489.2 68.0,489.1 69.0,489.0 70.0,488.9 71.0,488.9 72.0,488.8 73.0,488.7 74.0,488.6 75.0,488.6 76.0,488.5 77.0,488.4 78.0,488.4 79.0,488.3 80.0,488.1 81.0,487.3 82.0,486.4 83.0,485.6 84.0,484.7 85.0,483.8 86.0,482.4 87.0,479.1 88.0,475.8 89.0,472.4 90.0,469.3 91.0,467.1 92.0,465.0 93.0,462.9 94.0,460.8 95.0,458.2 96.0,453.4 97.0,448.7 98.0,443.3 99.0,436.5 100.0,429.6 101.0,423.4 102.0,420.0 103.0,416.6 104.0,413.7 105.0,411.6 106.0,409.5 107.0,408.9 108.0,408.8 109.0,408.8 110.0,408.9 111.0,409.1 112.0,411.8 113.0,410.8 114.0,405.1 115.0,399.2 116.0,393.6 117.0,388.1 118.0,382.7 119.0,377.6 120.0,372.5 121.0,367.6 122.0,362.8 123.0,358.1 124.0,352.9 125.0,347.2 126.0,341.5 127.0,335.7 128.0,331.2 129.0,328.2 130.0,325.2 131.0,322.4 132.0,319.6 133.0,316.9 134.0,314.2 135.0,311.5 136.0,309.9 137.0,309.1 138.1,308.4 139.1,308.1 140.1,308.0 141.1,308.0 142.1,306.9 143.1,304.9 144.1,302.9 145.1,300.8 146.1,298.7 147.1,296.6 148.1,294.5 149.1,292.4 150.1,290.3 151.1,288.2 152.1,288.1 153.1,288.0 154.1,288.1 155.1,288.2 156.1,288.5 157.1,290.6 158.1,292.7 159.1,294.4 160.1,293.8 161.1,293.7 162.1,293.6 163.1,293.9 164.1,294.1 165.1,299.1 166.1,304.3 167.1,313.8 168.1,323.4 169.1,334.8 170.1,346.0 171.1,354.5 172.1,362.9 173.1,371.1 174.1,378.1 175.1,385.2 176.1,392.6 177.1,401.6 178.1,410.6 179.1,419.5 180.1,427.9 181.1,436.2 182.1,444.3 183.1,451.3 184.1,457.3 185.1,458.7 186.1,460.1 187.1,461.3 188.1,462.1 189.1,463.0 190.1,463.8 191.1,464.6 192.1,465.7 193.1,466.7 194.1,468.0 195.1,469.7 196.1,471.5 197.1,473.1 198.1,474.5 199.1,475.9 200.1,477.1 201.1,477.9 202.1,478.8 203.1,479.7 204.1,480.5 205.1,481.4 206.1,482.2 207.1,483.0 208.1,483.8 209.1,484.6 210.1,485.3 211.1,485.8 212.1,486.4 213.1,486.9 214.1,487.4 215.1,487.9 216.1,488.3 217.1,488.4 218.1,488.6 219.1,488.7 220.1,488.8 221.1,489.0 222.1,489.1 223.1,489.1 224.1,489.1 225.1,489.1 226.1,489.1 227.1,489.1 228.1,489.1 229.1,489.1 230.1,489.1 231.1,489.1 232.1,489.2 233.1,489.2 234.1,489.2 235.1,489.2 236.1,489.2 237.1,489.2 238.1,489.2 239.1,489.1 240.1,489.0 241.1,488.9 242.1,488.9 243.1,488.8 244.1,488.7 245.1,488.6 246.1,488.5 247.1,488.4 248.1,488.3 249.1,488.2 250.1,487.6 251.1,486.7 252.1,485.7 253.1,484.7 254.1,483.7 255.1,482.8 256.1,481.7 257.1,480.2 258.1,478.6 259.1,477.1 260.1,475.1 261.1,470.5 262.1,465.8 263.1,461.0 264.1,456.3 265.1,452.1 266.1,447.9 267.1,443.7 268.1,439.9 269.1,437.5 270.1,435.1 271.1,432.8 272.1,430.9 273.1,430.4 274.1,430.0 275.1,430.0 276.1,430.0 277.1,430.0 278.1,430.1 279.1,430.2 280.1,431.7 281.1,433.1 282.1,434.8 283.1,436.9 284.1,439.0 285.1,441.1 286.1,443.2 287.1,445.6 288.1,447.9 289.1,450.2 290.1,452.3 291.2,453.8 292.2,455.4 293.2,456.9 294.2,458.1 295.2,458.6 296.2,459.2 297.2,459.7 298.2,460.2 299.2,460.8 300.2,461.3 301.2,462.0 302.2,463.3 303.2,465.7 304.2,468.0 305.2,470.3 306.2,472.6 307.2,474.7 308.2,476.8 309.2,478.9 310.2,480.7 311.2,482.3 312.2,483.9 313.2,485.4 314.2,486.2 315.2,486.6 316.2,486.9 317.2,487.3 318.2,487.6 319.2,487.8 320.2,487.7 321.2,487.6 322.2,487.5 323.2,487.4 324.2,487.4 325.2,487.3 326.2,487.2 327.2,487.1 328.2,487.1 329.2,487.1 330.2,487.1 331.2,487.1 332.2,487.2 333.2,487.3 334.2,487.4 335.2,487.6 336.2,487.7 337.2,487.8 338.2,487.9 339.2,488.1 340.2,488.1 341.2,488.1 342.2,488.2 343.2,488.2 344.2,488.2 345.2,488.3 346.2,488.3 347.2,488.3 348.2,488.3 349.2,488.4 350.2,488.4 351.2,488.4 352.2,488.3 353.2,488.1 354.2,487.8 355.2,487.6 356.2,487.3 357.2,487.1 358.2,486.1 359.2,485.1 360.2,484.0 361.2,483.0 362.2,481.9 363.2,480.9 364.2,479.8 365.2,479.8 366.2,479.7 366.2,486.7 365.2,487.7 364.2,488.6 363.2,489.6 362.2,490.6 361.2,491.5 360.2,491.7 359.2,491.8 358.2,492.1 357.2,492.2 356.2,492.2 355.2,492.2 354.2,492.2 353.2,492.2 352.2,492.2 351.2,492.2 350.2,492.2 349.2,492.2 348.2,492.2 347.2,492.2 346.2,492.2 345.2,492.2 344.2,492.2 343.2,492.2 342.2,492.2 341.2,492.2 340.2,492.2 339.2,492.2 338.2,492.2 337.2,492.2 336.2,492.2 335.2,492.2 334.2,492.2 333.2,492.0 332.2,491.9 331.2,491.8 330.2,491.7 329.2,491.6 328.2,491.6 327.2,491.7 326.2,491.8 325.2,491.9 324.2,491.9 323.2,492.0 322.2,492.1 321.2,492.2 320.2,492.2 319.2,492.2 318.2,492.2 317.2,492.2 316.2,492.2 315.2,492.2 314.2,491.9 313.2,491.6 312.2,491.2 311.2,491.0 310.2,490.7 309.2,489.9 308.2,488.5 307.2,487.1 306.2,485.7 305.2,484.1 304.2,482.1 303.2,480.2 302.2,478.3 301.2,476.3 300.2,474.2 299.2,472.0 298.2,469.8 297.2,468.5 296.2,468.1 295.2,467.6 294.2,467.1 293.2,466.6 292.2,466.1 291.2,465.7 290.1,465.2 289.1,464.2 288.1,462.7 287.1,461.3 286.1,459.9 285.1,458.1 284.1,456.0 283.1,453.8 282.1,451.7 281.1,449.8 280.1,447.9 279.1,446.0 278.1,444.1 277.1,442.6 276.1,441.2 275.1,442.1 274.1,444.4 273.1,446.5 272.1,448.6 271.1,452.1 270.1,455.9 269.1,459.7 268.1,463.5 267.1,467.8 266.1,472.1 265.1,476.5 264.1,480.9 263.1,482.5 262.1,483.8 261.1,485.2 260.1,486.6 259.1,487.5 258.1,488.4 257.1,489.3 256.1,490.1 255.1,491.0 254.1,491.9 253.1,492.2 252.1,492.2 251.1,492.2 250.1,492.2 249.1,492.2 248.1,492.2 247.1,492.2 246.1,492.2 245.1,492.2 244.1,492.2 243.1,492.2 242.1,492.2 241.1,492.2 240.1,492.2 239.1,492.2 238.1,492.2 237.1,492.2 236.1,492.2 235.1,492.2 234.1,492.2 233.1,492.2 232.1,492.2 231.1,492.2 230.1,492.2 229.1,492.2 228.1,492.2 227.1,492.2 226.1,492.2 225.1,492.2 224.1,492.2 223.1,492.2 222.1,492.2 221.1,492.2 220.1,492.2 219.1,492.2 218.1,492.2 217.1,492.2 216.1,492.2 215.1,492.2 214.1,492.2 213.1,492.2 212.1,492.2 211.1,492.2 210.1,491.7 209.1,491.2 208.1,490.7 207.1,490.3 206.1,489.8 205.1,489.2 204.1,488.4 203.1,487.7 202.1,487.0 201.1,486.2 200.1,485.5 199.1,484.7 198.1,483.9 197.1,483.1 196.1,482.4 195.1,481.3 194.1,480.0 193.1,478.8 192.1,477.3 191.1,475.7 190.1,474.0 189.1,472.9 188.1,472.0 187.1,471.1 186.1,470.3 185.1,469.6 184.1,468.8 183.1,468.1 182.1,467.0 181.1,465.9 180.1,465.0 179.1,459.4 178.1,452.8 177.1,445.4 176.1,437.9 175.1,430.4 174.1,422.3 173.1,414.0 172.1,405.8 171.1,399.1 170.1,392.9 169.1,386.6 168.1,379.2 167.1,371.6 166.1,364.1 165.1,353.8 164.1,343.2 163.1,334.4 162.1,325.7 161.1,320.8 160.1,319.5 159.1,319.4 158.1,319.5 157.1,319.6 156.1,318.3 155.1,317.1 154.1,315.6 153.1,315.2 152.1,317.1 151.1,319.0 150.1,320.9 149.1,322.8 148.1,324.7 147.1,326.6 146.1,328.5 145.1,329.5 144.1,329.4 143.1,329.4 142.1,329.7 141.1,330.3 140.1,330.9 139.1,332.4 138.1,334.9 137.0,337.4 136.0,339.8 135.0,342.4 134.0,345.0 133.0,347.6 132.0,350.2 131.0,354.3 130.0,359.6 129.0,364.9 128.0,370.1 127.0,374.8 126.0,379.0 125.0,383.3 124.0,387.8 123.0,392.3 122.0,396.9 121.0,401.8 120.0,406.9 119.0,411.9 118.0,417.2 117.0,422.7 116.0,427.8 115.0,427.5 114.0,427.2 113.0,427.2 112.0,427.2 111.0,427.3 110.0,427.4 109.0,425.8 108.0,424.9 107.0,427.5 106.0,430.5 105.0,433.5 104.0,439.2 103.0,445.7 102.0,452.0 101.0,456.8 100.0,461.1 99.0,465.5 98.0,467.8 97.0,469.6 96.0,471.4 95.0,473.3 94.0,475.2 93.0,478.0 92.0,481.2 91.0,484.3 90.0,487.4 89.0,488.6 88.0,489.3 87.0,490.0 86.0,490.8 85.0,491.6 84.0,492.2 83.0,492.2 82.0,492.2 81.0,492.2 80.0,492.2 79.0,492.2 78.0,492.2 77.0,492.2 76.0,492.2 75.0,492.2 74.0,492.2 73.0,492.2 72.0,492.2 71.0,492.2 70.0,492.2 69.0,492.2 68.0,492.2 67.0,492.2 66.0,492.2 65.0,492.2 64.0,492.2 63.0,492.2 62.0,492.2" fill="#9467bd" fill-opacity="0.075" clip-path="url(#cB)" filter="url(#bl)"/>
<polygon points="366.0,259.0 367.0,258.8 368.0,258.6 369.0,258.3 370.0,258.1 371.0,257.9 372.0,257.6 373.0,257.4 374.0,257.1 375.0,256.1 376.0,255.1 377.0,254.0 378.0,252.9 379.0,250.5 380.0,248.2 381.0,245.8 382.0,243.2 383.0,238.4 384.0,233.6 385.0,228.9 386.0,226.6 387.0,224.4 388.0,222.4 389.0,221.6 390.0,220.7 391.0,220.6 392.0,220.6 393.0,220.5 394.0,220.2 395.0,217.0 396.0,212.9 397.0,206.7 398.0,200.5 399.0,194.4 400.0,189.4 401.0,184.4 402.0,179.7 403.0,176.1 404.0,172.5 405.0,169.4 406.0,168.2 407.0,167.0 408.0,166.0 409.0,165.5 410.0,165.4 411.0,165.4 412.0,165.4 413.0,165.7 414.0,166.7 415.0,170.3 416.0,173.6 417.0,176.1 418.0,178.4 419.0,180.2 420.0,180.9 421.0,181.5 422.0,182.0 423.0,182.2 424.0,183.5 425.0,186.7 426.0,190.0 427.0,192.7 428.0,194.8 429.0,196.8 430.0,197.9 431.0,198.0 432.0,198.1 433.0,199.1 434.0,201.2 435.0,203.2 436.0,199.5 437.0,195.5 438.0,191.9 439.0,189.0 440.0,186.2 441.0,183.5 442.1,180.0 443.1,175.9 444.1,171.7 445.1,167.4 446.1,160.5 447.1,151.3 448.1,138.2 449.1,121.8 450.1,111.8 451.1,106.7 452.1,102.1 453.1,97.1 454.1,91.5 455.1,85.9 456.1,78.0 457.1,75.4 458.1,74.9 459.1,74.7 460.1,74.8 461.1,74.8 462.1,74.2 463.1,71.4 464.1,68.1 465.1,64.3 466.1,60.5 467.1,56.9 468.1,56.7 469.1,56.5 470.1,56.5 471.1,56.6 472.1,57.8 473.1,59.0 474.1,61.0 475.1,60.9 476.1,60.9 477.1,61.0 478.1,61.1 479.1,62.9 480.1,64.7 481.1,66.9 482.1,70.5 483.1,74.0 484.1,77.5 485.1,80.6 486.1,83.8 487.1,87.0 488.1,90.3 489.1,93.8 490.1,97.5 491.1,101.7 492.1,108.3 493.1,114.9 494.1,121.3 495.1,127.5 496.1,133.6 497.1,138.7 498.1,141.5 499.1,144.3 500.1,147.0 501.1,149.4 502.1,151.8 503.1,154.1 504.1,156.1 505.1,155.8 506.1,153.6 507.1,150.9 508.1,148.1 509.1,144.8 510.1,140.6 511.1,135.4 512.1,128.6 513.1,121.7 514.1,114.7 515.1,107.6 516.1,100.6 517.1,95.6 518.1,93.7 519.1,93.2 520.1,93.1 521.1,93.0 522.1,93.1 523.1,93.2 524.1,93.3 525.1,90.8 526.1,87.9 527.1,84.6 528.1,84.4 529.1,84.2 530.1,84.4 531.1,84.7 532.1,88.9 533.1,93.7 534.1,98.7 535.1,103.8 536.1,107.0 537.1,108.4 538.1,109.8 539.1,111.1 540.1,112.1 541.1,113.2 542.1,114.5 543.1,115.9 544.1,115.0 545.1,112.0 546.1,110.2 547.1,109.4 548.1,108.6 549.1,108.5 550.1,108.4 551.1,108.4 552.1,108.4 553.1,108.5 554.1,108.7 555.1,108.4 556.1,108.4 557.1,108.4 558.1,108.4 559.1,108.4 560.1,108.9 561.1,109.6 562.1,110.3 563.1,110.9 564.1,111.5 565.1,112.1 566.1,112.6 567.1,113.0 568.1,113.4 569.1,113.4 570.1,113.4 571.1,113.3 572.1,108.7 573.1,104.0 574.1,99.4 575.1,95.8 576.1,92.2 577.1,90.1 578.1,89.9 579.1,89.8 580.1,89.9 581.1,90.1 582.1,92.1 583.1,88.9 584.1,84.3 585.1,79.7 586.1,75.3 587.1,70.8 588.1,70.5 589.1,70.3 590.1,70.4 591.1,70.6 592.1,73.5 593.1,76.8 594.1,80.2 595.2,83.7 596.2,87.2 597.2,90.8 598.2,94.4 599.2,98.1 600.2,101.7 601.2,105.1 602.2,108.5 603.2,110.4 604.2,110.7 605.2,111.0 606.2,111.2 607.2,111.6 608.2,112.0 609.2,112.4 610.2,112.9 611.2,113.5 612.2,115.7 613.2,119.8 614.2,123.8 615.2,127.9 616.2,132.1 617.2,136.2 618.2,140.0 619.2,143.4 620.2,146.9 621.2,149.6 622.2,151.6 623.2,153.7 624.2,153.0 625.2,150.7 626.2,148.0 627.2,145.2 628.2,142.1 629.2,139.0 630.2,134.3 631.2,128.8 632.2,123.3 633.2,116.8 634.2,109.8 635.2,102.8 636.2,97.9 637.2,94.0 638.2,90.3 639.2,88.8 640.2,87.9 641.2,87.2 642.2,83.6 643.2,79.3 644.2,74.8 645.2,74.3 646.2,74.1 647.2,74.1 648.2,74.1 649.2,74.2 650.2,75.3 651.2,76.4 652.2,78.0 653.2,79.7 654.2,81.5 655.2,82.0 656.2,79.2 657.2,79.0 658.2,78.8 659.2,79.0 660.2,79.2 661.2,81.4 662.2,84.2 663.2,86.0 664.2,83.1 665.2,82.9 666.2,82.7 667.2,82.9 668.2,83.1 669.2,86.3 670.2,89.5 670.2,119.5 669.2,119.7 668.2,119.9 667.2,117.1 666.2,114.3 665.2,115.9 664.2,115.7 663.2,115.6 662.2,115.7 661.2,115.9 660.2,114.0 659.2,112.1 658.2,110.2 657.2,112.2 656.2,112.0 655.2,111.9 654.2,112.0 653.2,112.1 652.2,110.5 651.2,108.9 650.2,107.3 649.2,105.7 648.2,104.2 647.2,105.2 646.2,109.5 645.2,112.7 644.2,113.1 643.2,113.5 642.2,114.7 641.2,118.1 640.2,121.4 639.2,125.7 638.2,132.1 637.2,138.4 636.2,144.2 635.2,149.0 634.2,153.8 633.2,158.0 632.2,160.7 631.2,163.3 630.2,165.7 629.2,168.1 628.2,170.2 627.2,171.5 626.2,172.8 625.2,172.7 624.2,172.6 623.2,172.6 622.2,172.7 621.2,172.4 620.2,171.9 619.2,170.8 618.2,168.9 617.2,167.2 616.2,164.8 615.2,161.7 614.2,158.7 613.2,155.4 612.2,151.7 611.2,148.1 610.2,144.5 609.2,140.8 608.2,137.0 607.2,135.1 606.2,134.7 605.2,134.4 604.2,134.0 603.2,133.7 602.2,133.4 601.2,133.1 600.2,133.0 599.2,133.0 598.2,131.3 597.2,128.1 596.2,125.0 595.2,121.9 594.1,118.7 593.1,115.5 592.1,112.3 591.1,109.2 590.1,106.1 589.1,105.7 588.1,109.8 587.1,114.0 586.1,116.8 585.1,118.9 584.1,121.1 583.1,120.9 582.1,120.8 581.1,120.9 580.1,121.0 579.1,119.8 578.1,122.9 577.1,127.0 576.1,131.4 575.1,135.7 574.1,136.3 573.1,136.0 572.1,135.9 571.1,135.9 570.1,136.0 569.1,135.6 568.1,135.3 567.1,135.2 566.1,135.2 565.1,135.3 564.1,135.3 563.1,135.0 562.1,134.6 561.1,134.1 560.1,133.6 559.1,133.1 558.1,132.5 557.1,131.9 556.1,131.6 555.1,131.6 554.1,131.6 553.1,131.6 552.1,131.6 551.1,131.7 550.1,132.3 549.1,133.8 548.1,136.7 547.1,139.6 546.1,140.9 545.1,140.7 544.1,140.6 543.1,140.6 542.1,140.7 541.1,139.8 540.1,138.8 539.1,137.5 538.1,136.2 537.1,135.1 536.1,134.2 535.1,133.3 534.1,132.2 533.1,131.0 532.1,130.0 531.1,127.2 530.1,122.5 529.1,118.0 528.1,117.8 527.1,119.1 526.1,119.2 525.1,119.4 524.1,119.4 523.1,119.4 522.1,119.4 521.1,119.5 520.1,123.6 519.1,130.2 518.1,136.5 517.1,142.7 516.1,148.8 515.1,154.9 514.1,159.5 513.1,163.0 512.1,165.9 511.1,168.3 510.1,170.7 509.1,172.6 508.1,174.2 507.1,175.8 506.1,175.6 505.1,175.5 504.1,175.6 503.1,175.6 502.1,175.3 501.1,174.1 500.1,172.9 499.1,171.1 498.1,169.0 497.1,166.9 496.1,164.9 495.1,162.5 494.1,160.2 493.1,157.9 492.1,153.3 491.1,147.8 490.1,142.3 489.1,136.7 488.1,130.7 487.1,124.8 486.1,121.2 485.1,118.1 484.1,114.9 483.1,112.1 482.1,109.3 481.1,106.6 480.1,103.8 479.1,100.7 478.1,97.5 477.1,94.3 476.1,92.5 475.1,91.6 474.1,91.6 473.1,91.5 472.1,91.6 471.1,91.8 470.1,89.9 469.1,92.2 468.1,95.6 467.1,98.6 466.1,101.1 465.1,102.8 464.1,103.6 463.1,103.5 462.1,103.4 461.1,103.5 460.1,103.5 459.1,111.1 458.1,116.3 457.1,121.2 456.1,125.6 455.1,129.2 454.1,132.9 453.1,141.9 452.1,157.4 451.1,169.5 450.1,177.4 449.1,183.3 448.1,186.7 447.1,190.2 446.1,193.9 445.1,197.0 444.1,199.3 443.1,201.7 442.1,204.1 441.0,207.2 440.0,211.0 439.0,214.8 438.0,216.1 437.0,215.9 436.0,215.7 435.0,215.8 434.0,215.8 433.0,215.5 432.0,215.3 431.0,214.2 430.0,212.3 429.0,210.3 428.0,209.5 427.0,209.5 426.0,209.7 425.0,208.7 424.0,206.9 423.0,205.1 422.0,202.6 421.0,199.6 420.0,196.5 419.0,195.5 418.0,195.5 417.0,195.1 416.0,194.6 415.0,194.1 414.0,192.5 413.0,190.4 412.0,188.3 411.0,185.2 410.0,183.3 409.0,184.2 408.0,187.0 407.0,190.2 406.0,193.4 405.0,197.5 404.0,201.9 403.0,206.3 402.0,211.7 401.0,217.3 400.0,222.9 399.0,226.4 398.0,229.4 397.0,232.4 396.0,232.2 395.0,232.0 394.0,232.0 393.0,232.2 392.0,231.3 391.0,232.6 390.0,234.6 389.0,236.4 388.0,240.7 387.0,245.2 386.0,249.5 385.0,251.7 384.0,253.7 383.0,255.8 382.0,257.9 381.0,258.8 380.0,259.7 379.0,260.6 378.0,261.5 377.0,261.7 376.0,261.7 375.0,261.7 374.0,261.7 373.0,261.7 372.0,261.7 371.0,261.7 370.0,261.7 369.0,261.7 368.0,261.7 367.0,261.7 366.0,261.7" fill="#ff7f0e" fill-opacity="0.075" clip-path="url(#cC)" filter="url(#bl)"/>
<polygon points="366.0,259.7 367.0,259.5 368.0,259.4 369.0,259.2 370.0,259.0 371.0,258.9 372.0,258.7 373.0,258.1 374.0,257.5 375.0,256.8 376.0,256.1 377.0,255.4 378.0,253.6 379.0,251.8 380.0,249.9 381.0,247.8 382.0,243.7 383.0,239.6 384.0,235.4 385.0,232.5 386.0,229.5 387.0,226.8 388.0,225.9 389.0,225.0 390.0,224.5 391.0,224.4 392.0,224.4 393.0,224.4 394.0,224.3 395.0,219.3 396.0,214.3 397.0,208.9 398.0,203.6 399.0,198.2 400.0,196.1 401.0,195.7 402.0,195.6 403.0,195.6 404.0,193.1 405.0,190.3 406.0,186.5 407.0,180.9 408.0,175.4 409.0,169.6 410.0,163.8 411.0,158.1 412.0,155.9 413.0,155.0 414.0,154.9 415.0,154.9 416.0,154.9 417.0,155.1 418.0,156.0 419.0,158.9 420.0,163.0 421.0,169.3 422.0,175.1 423.0,179.7 424.0,184.2 425.0,188.0 426.0,190.6 427.0,193.2 428.0,195.6 429.0,197.7 430.0,199.8 431.0,201.8 432.0,203.5 433.0,202.4 434.0,198.7 435.0,194.9 436.0,190.8 437.0,186.6 438.0,182.3 439.0,178.8 440.0,176.1 441.0,173.6 442.1,171.1 443.1,168.2 444.1,165.1 445.1,161.9 446.1,155.7 447.1,146.4 448.1,134.7 449.1,122.2 450.1,114.0 451.1,109.2 452.1,104.7 453.1,100.0 454.1,94.7 455.1,89.4 456.1,86.4 457.1,85.5 458.1,85.3 459.1,85.3 460.1,85.4 461.1,85.6 462.1,87.7 463.1,88.8 464.1,87.2 465.1,81.7 466.1,76.3 467.1,70.4 468.1,62.0 469.1,53.6 470.1,45.2 471.1,40.5 472.1,36.5 473.1,36.1 474.1,35.9 475.1,35.9 476.1,36.0 477.1,36.9 478.1,38.5 479.1,43.9 480.1,50.7 481.1,63.7 482.1,77.1 483.1,92.1 484.1,106.7 485.1,120.1 486.1,132.4 487.1,139.1 488.1,147.8 489.1,156.6 490.1,166.1 491.1,175.0 492.1,181.7 493.1,188.3 494.1,194.9 495.1,201.2 496.1,206.8 497.1,211.1 498.1,214.9 499.1,217.8 500.1,220.7 501.1,223.9 502.1,227.8 503.1,231.6 504.1,234.5 505.1,235.6 506.1,236.6 507.1,237.6 508.1,238.4 509.1,238.0 510.1,236.3 511.1,233.6 512.1,230.8 513.1,228.3 514.1,226.5 515.1,224.6 516.1,223.6 517.1,223.5 518.1,223.4 519.1,223.4 520.1,223.5 521.1,223.5 522.1,223.5 523.1,223.4 524.1,223.5 525.1,223.6 526.1,224.0 527.1,224.9 528.1,223.1 529.1,221.2 530.1,219.6 531.1,218.2 532.1,216.9 533.1,215.6 534.1,215.4 535.1,215.3 536.1,215.3 537.1,215.3 538.1,215.4 539.1,216.5 540.1,217.7 541.1,219.8 542.1,222.8 543.1,225.8 544.1,229.0 545.1,232.1 546.1,235.2 547.1,237.5 548.1,239.3 549.1,241.0 550.1,242.1 551.1,242.9 552.1,243.8 553.1,244.6 554.1,245.6 555.1,246.8 556.1,248.4 557.1,250.1 558.1,251.9 559.1,252.6 560.1,253.0 561.1,253.3 562.1,253.4 563.1,253.3 564.1,253.3 565.1,253.1 566.1,252.0 567.1,251.0 568.1,249.7 569.1,248.0 570.1,246.3 571.1,244.1 572.1,240.4 573.1,235.9 574.1,228.7 575.1,221.9 576.1,216.4 577.1,215.9 578.1,215.5 579.1,213.5 580.1,207.8 581.1,199.1 582.1,191.1 583.1,184.5 584.1,177.9 585.1,171.5 586.1,165.1 587.1,158.6 588.1,151.7 589.1,143.8 590.1,137.6 591.1,126.3 592.1,118.3 593.1,116.4 594.1,115.4 595.2,115.3 596.2,115.2 597.2,115.3 598.2,115.5 599.2,116.4 600.2,119.0 601.2,123.9 602.2,129.0 603.2,134.3 604.2,140.2 605.2,146.7 606.2,153.5 607.2,160.7 608.2,165.7 609.2,168.2 610.2,170.6 611.2,172.2 612.2,172.9 613.2,171.8 614.2,169.7 615.2,166.9 616.2,163.4 617.2,159.9 618.2,155.9 619.2,151.7 620.2,146.3 621.2,140.0 622.2,133.5 623.2,126.9 624.2,122.3 625.2,118.8 626.2,115.5 627.2,112.3 628.2,108.7 629.2,105.0 630.2,101.2 631.2,97.5 632.2,94.1 633.2,90.8 634.2,87.6 635.2,84.4 636.2,84.1 637.2,83.9 638.2,84.0 639.2,84.2 640.2,85.6 641.2,88.8 642.2,89.4 643.2,86.8 644.2,83.9 645.2,79.5 646.2,74.6 647.2,69.7 648.2,63.6 649.2,57.3 650.2,50.9 651.2,45.9 652.2,41.3 653.2,36.8 654.2,36.5 655.2,36.2 656.2,36.3 657.2,36.5 658.2,38.7 659.2,41.5 660.2,44.4 661.2,47.3 662.2,50.3 663.2,53.3 664.2,58.1 665.2,63.3 666.2,68.6 667.2,77.2 668.2,86.1 669.2,93.4 670.2,100.7 670.2,135.0 669.2,135.4 668.2,135.8 667.2,131.8 666.2,127.9 665.2,121.6 664.2,115.3 663.2,107.3 662.2,99.6 661.2,95.4 660.2,90.9 659.2,86.7 658.2,84.3 657.2,81.9 656.2,79.5 655.2,80.6 654.2,84.8 653.2,90.4 652.2,96.0 651.2,101.2 650.2,105.3 649.2,109.5 648.2,113.4 647.2,115.7 646.2,118.0 645.2,119.9 644.2,120.1 643.2,120.2 642.2,120.2 641.2,120.2 640.2,120.2 639.2,120.5 638.2,120.3 637.2,119.0 636.2,121.7 635.2,124.6 634.2,127.8 633.2,131.1 632.2,134.3 631.2,137.3 630.2,140.0 629.2,142.8 628.2,145.5 627.2,149.3 626.2,155.3 625.2,161.0 624.2,166.5 623.2,171.1 622.2,174.6 621.2,177.9 620.2,180.9 619.2,183.9 618.2,186.4 617.2,188.1 616.2,189.8 615.2,190.6 614.2,190.4 613.2,190.3 612.2,190.4 611.2,190.4 610.2,190.0 609.2,189.5 608.2,189.0 607.2,188.5 606.2,187.1 605.2,185.1 604.2,183.3 603.2,179.0 602.2,172.5 601.2,166.6 600.2,161.0 599.2,156.0 598.2,151.4 597.2,147.0 596.2,142.6 595.2,148.7 594.1,159.4 593.1,164.4 592.1,171.0 591.1,177.0 590.1,182.4 589.1,187.8 588.1,193.3 587.1,198.7 586.1,204.2 585.1,211.3 584.1,219.2 583.1,224.4 582.1,227.7 581.1,227.2 580.1,226.9 579.1,230.0 578.1,236.5 577.1,243.1 576.1,246.9 575.1,249.8 574.1,251.5 573.1,252.9 572.1,254.4 571.1,255.4 570.1,256.3 569.1,257.3 568.1,257.4 567.1,257.4 566.1,257.4 565.1,257.4 564.1,257.4 563.1,257.4 562.1,257.4 561.1,257.4 560.1,257.4 559.1,257.4 558.1,257.4 557.1,257.4 556.1,257.1 555.1,256.9 554.1,256.3 553.1,254.7 552.1,253.1 551.1,251.7 550.1,250.7 549.1,249.9 548.1,249.2 547.1,248.6 546.1,247.9 545.1,247.0 544.1,245.5 543.1,244.0 542.1,242.1 541.1,239.4 540.1,236.6 539.1,234.0 538.1,231.4 537.1,228.7 536.1,226.9 535.1,227.5 534.1,228.6 533.1,230.0 532.1,231.6 531.1,233.3 530.1,234.9 529.1,235.1 528.1,235.0 527.1,235.0 526.1,235.0 525.1,235.1 524.1,234.2 523.1,233.2 522.1,232.6 521.1,232.5 520.1,232.5 519.1,232.7 518.1,234.4 517.1,236.0 516.1,238.1 515.1,240.6 514.1,243.1 513.1,244.5 512.1,245.3 511.1,246.2 510.1,246.1 509.1,246.0 508.1,246.0 507.1,246.1 506.1,246.1 505.1,245.3 504.1,244.7 503.1,244.0 502.1,243.1 501.1,242.4 500.1,241.7 499.1,239.1 498.1,235.7 497.1,232.2 496.1,229.5 495.1,227.2 494.1,224.8 493.1,221.7 492.1,218.1 491.1,213.2 490.1,207.8 489.1,202.2 488.1,196.7 487.1,191.2 486.1,183.4 485.1,175.1 484.1,167.4 483.1,160.4 482.1,155.3 481.1,144.8 480.1,133.0 479.1,120.3 478.1,107.3 477.1,95.5 476.1,83.9 475.1,78.2 474.1,79.6 473.1,87.1 472.1,94.7 471.1,102.1 470.1,106.9 469.1,111.6 468.1,116.4 467.1,117.5 466.1,118.7 465.1,120.7 464.1,120.6 463.1,120.4 462.1,120.5 461.1,120.6 460.1,119.5 459.1,118.2 458.1,122.2 457.1,126.9 456.1,131.0 455.1,134.4 454.1,137.9 453.1,145.0 452.1,156.4 451.1,167.1 450.1,175.2 449.1,180.2 448.1,182.5 447.1,185.0 446.1,187.4 445.1,189.5 444.1,191.6 443.1,193.7 442.1,196.7 441.0,200.5 440.0,204.2 439.0,207.7 438.0,211.0 437.0,214.4 436.0,216.1 435.0,216.4 434.0,216.9 433.0,216.9 432.0,216.8 431.0,216.9 430.0,217.0 429.0,216.5 428.0,215.0 427.0,213.5 426.0,211.8 425.0,210.0 424.0,208.2 423.0,206.2 422.0,204.1 421.0,202.0 420.0,198.7 419.0,194.8 418.0,191.0 417.0,185.9 416.0,180.1 415.0,176.5 414.0,181.0 413.0,186.2 412.0,191.1 411.0,195.9 410.0,200.8 409.0,204.0 408.0,206.3 407.0,208.8 406.0,209.0 405.0,208.7 404.0,208.7 403.0,209.8 402.0,214.8 401.0,219.7 400.0,224.2 399.0,228.8 398.0,233.4 397.0,233.9 396.0,233.5 395.0,233.4 394.0,233.4 393.0,233.4 392.0,233.9 391.0,234.5 390.0,236.9 389.0,239.5 388.0,242.0 387.0,245.6 386.0,249.4 385.0,253.0 384.0,254.7 383.0,256.1 382.0,257.7 381.0,259.3 380.0,259.9 379.0,260.3 378.0,260.9 377.0,261.4 376.0,261.7 375.0,261.7 374.0,261.7 373.0,261.7 372.0,261.7 371.0,261.7 370.0,261.7 369.0,261.7 368.0,261.7 367.0,261.7 366.0,261.7" fill="#2ca02c" fill-opacity="0.075" clip-path="url(#cC)" filter="url(#bl)"/>
<polygon points="366.0,489.5 367.0,489.3 368.0,489.1 369.0,488.8 370.0,488.6 371.0,488.4 372.0,488.1 373.0,487.9 374.0,487.6 375.0,486.6 376.0,485.6 377.0,484.5 378.0,483.4 379.0,481.0 380.0,478.7 381.0,476.3 382.0,473.7 383.0,468.9 384.0,464.1 385.0,459.4 386.0,457.1 387.0,454.9 388.0,452.9 389.0,452.1 390.0,451.2 391.0,451.1 392.0,451.1 393.0,451.0 394.0,450.7 395.0,447.5 396.0,443.4 397.0,437.2 398.0,431.0 399.0,424.9 400.0,419.9 401.0,414.9 402.0,410.2 403.0,406.6 404.0,403.0 405.0,399.9 406.0,398.7 407.0,397.5 408.0,396.5 409.0,396.0 410.0,395.9 411.0,395.9 412.0,395.9 413.0,396.2 414.0,397.2 415.0,400.8 416.0,404.1 417.0,406.6 418.0,408.9 419.0,410.7 420.0,411.4 421.0,412.0 422.0,412.5 423.0,412.7 424.0,414.0 425.0,417.2 426.0,420.5 427.0,423.2 428.0,425.3 429.0,427.3 430.0,428.4 431.0,428.5 432.0,428.6 433.0,429.6 434.0,431.7 435.0,433.7 436.0,430.0 437.0,426.0 438.0,422.4 439.0,419.5 440.0,416.7 441.0,414.0 442.1,410.5 443.1,406.4 444.1,402.2 445.1,397.9 446.1,391.0 447.1,381.8 448.1,368.7 449.1,352.3 450.1,342.3 451.1,337.2 452.1,332.6 453.1,327.6 454.1,322.0 455.1,316.4 456.1,308.5 457.1,305.9 458.1,305.4 459.1,305.2 460.1,305.3 461.1,305.3 462.1,304.7 463.1,301.9 464.1,298.6 465.1,294.8 466.1,291.0 467.1,287.4 468.1,287.2 469.1,287.0 470.1,287.0 471.1,287.1 472.1,288.3 473.1,289.5 474.1,291.5 475.1,291.4 476.1,291.4 477.1,291.5 478.1,291.6 479.1,293.4 480.1,295.2 481.1,297.4 482.1,301.0 483.1,304.5 484.1,308.0 485.1,311.1 486.1,314.3 487.1,317.5 488.1,320.8 489.1,324.3 490.1,328.0 491.1,332.2 492.1,338.8 493.1,345.4 494.1,351.8 495.1,358.0 496.1,364.1 497.1,369.2 498.1,372.0 499.1,374.8 500.1,377.5 501.1,379.9 502.1,382.3 503.1,384.6 504.1,386.6 505.1,386.3 506.1,384.1 507.1,381.4 508.1,378.6 509.1,375.3 510.1,371.1 511.1,365.9 512.1,359.1 513.1,352.2 514.1,345.2 515.1,338.1 516.1,331.1 517.1,326.1 518.1,324.2 519.1,323.7 520.1,323.6 521.1,323.5 522.1,323.6 523.1,323.7 524.1,323.8 525.1,321.3 526.1,318.4 527.1,315.1 528.1,314.9 529.1,314.7 530.1,314.9 531.1,315.2 532.1,319.4 533.1,324.2 534.1,329.2 535.1,334.3 536.1,337.5 537.1,338.9 538.1,340.3 539.1,341.6 540.1,342.6 541.1,343.7 542.1,345.0 543.1,346.4 544.1,345.5 545.1,342.5 546.1,340.7 547.1,339.9 548.1,339.1 549.1,339.0 550.1,338.9 551.1,338.9 552.1,338.9 553.1,339.0 554.1,339.2 555.1,338.9 556.1,338.9 557.1,338.9 558.1,338.9 559.1,338.9 560.1,339.4 561.1,340.1 562.1,340.8 563.1,341.4 564.1,342.0 565.1,342.6 566.1,343.1 567.1,343.5 568.1,343.9 569.1,343.9 570.1,343.9 571.1,343.8 572.1,339.2 573.1,334.5 574.1,329.9 575.1,326.3 576.1,322.7 577.1,320.6 578.1,320.4 579.1,320.3 580.1,320.4 581.1,320.6 582.1,322.6 583.1,319.4 584.1,314.8 585.1,310.2 586.1,305.8 587.1,301.3 588.1,301.0 589.1,300.8 590.1,300.9 591.1,301.1 592.1,304.0 593.1,307.3 594.1,310.7 595.2,314.2 596.2,317.7 597.2,321.3 598.2,324.9 599.2,328.6 600.2,332.2 601.2,335.6 602.2,339.0 603.2,340.9 604.2,341.2 605.2,341.5 606.2,341.7 607.2,342.1 608.2,342.5 609.2,342.9 610.2,343.4 611.2,344.0 612.2,346.2 613.2,350.3 614.2,354.3 615.2,358.4 616.2,362.6 617.2,366.7 618.2,370.5 619.2,373.9 620.2,377.4 621.2,380.1 622.2,382.1 623.2,384.2 624.2,383.5 625.2,381.2 626.2,378.5 627.2,375.7 628.2,372.6 629.2,369.5 630.2,364.8 631.2,359.3 632.2,353.8 633.2,347.3 634.2,340.3 635.2,333.3 636.2,328.4 637.2,324.5 638.2,320.8 639.2,319.3 640.2,318.4 641.2,317.7 642.2,314.1 643.2,309.8 644.2,305.3 645.2,304.8 646.2,304.6 647.2,304.6 648.2,304.6 649.2,304.7 650.2,305.8 651.2,306.9 652.2,308.5 653.2,310.2 654.2,312.0 655.2,312.5 656.2,309.7 657.2,309.5 658.2,309.3 659.2,309.5 660.2,309.7 661.2,311.9 662.2,314.7 663.2,316.5 664.2,313.6 665.2,313.4 666.2,313.2 667.2,313.4 668.2,313.6 669.2,316.8 670.2,320.0 670.2,350.0 669.2,350.2 668.2,350.4 667.2,347.6 666.2,344.8 665.2,346.4 664.2,346.2 663.2,346.1 662.2,346.2 661.2,346.4 660.2,344.5 659.2,342.6 658.2,340.7 657.2,342.7 656.2,342.5 655.2,342.4 654.2,342.5 653.2,342.6 652.2,341.0 651.2,339.4 650.2,337.8 649.2,336.2 648.2,334.7 647.2,335.7 646.2,340.0 645.2,343.2 644.2,343.6 643.2,344.0 642.2,345.2 641.2,348.6 640.2,351.9 639.2,356.2 638.2,362.6 637.2,368.9 636.2,374.7 635.2,379.5 634.2,384.3 633.2,388.5 632.2,391.2 631.2,393.8 630.2,396.2 629.2,398.6 628.2,400.7 627.2,402.0 626.2,403.3 625.2,403.2 624.2,403.1 623.2,403.1 622.2,403.2 621.2,402.9 620.2,402.4 619.2,401.3 618.2,399.4 617.2,397.7 616.2,395.3 615.2,392.2 614.2,389.2 613.2,385.9 612.2,382.2 611.2,378.6 610.2,375.0 609.2,371.3 608.2,367.5 607.2,365.6 606.2,365.2 605.2,364.9 604.2,364.5 603.2,364.2 602.2,363.9 601.2,363.6 600.2,363.5 599.2,363.5 598.2,361.8 597.2,358.6 596.2,355.5 595.2,352.4 594.1,349.2 593.1,346.0 592.1,342.8 591.1,339.7 590.1,336.6 589.1,336.2 588.1,340.3 587.1,344.5 586.1,347.3 585.1,349.4 584.1,351.6 583.1,351.4 582.1,351.3 581.1,351.4 580.1,351.5 579.1,350.3 578.1,353.4 577.1,357.5 576.1,361.9 575.1,366.2 574.1,366.8 573.1,366.5 572.1,366.4 571.1,366.4 570.1,366.5 569.1,366.1 568.1,365.8 567.1,365.7 566.1,365.7 565.1,365.8 564.1,365.8 563.1,365.5 562.1,365.1 561.1,364.6 560.1,364.1 559.1,363.6 558.1,363.0 557.1,362.4 556.1,362.1 555.1,362.1 554.1,362.1 553.1,362.1 552.1,362.1 551.1,362.2 550.1,362.8 549.1,364.3 548.1,367.2 547.1,370.1 546.1,371.4 545.1,371.2 544.1,371.1 543.1,371.1 542.1,371.2 541.1,370.3 540.1,369.3 539.1,368.0 538.1,366.7 537.1,365.6 536.1,364.7 535.1,363.8 534.1,362.7 533.1,361.5 532.1,360.5 531.1,357.7 530.1,353.0 529.1,348.5 528.1,348.3 527.1,349.6 526.1,349.7 525.1,349.9 524.1,349.9 523.1,349.9 522.1,349.9 521.1,350.0 520.1,354.1 519.1,360.7 518.1,367.0 517.1,373.2 516.1,379.3 515.1,385.4 514.1,390.0 513.1,393.5 512.1,396.4 511.1,398.8 510.1,401.2 509.1,403.1 508.1,404.7 507.1,406.3 506.1,406.1 505.1,406.0 504.1,406.1 503.1,406.1 502.1,405.8 501.1,404.6 500.1,403.4 499.1,401.6 498.1,399.5 497.1,397.4 496.1,395.4 495.1,393.0 494.1,390.7 493.1,388.4 492.1,383.8 491.1,378.3 490.1,372.8 489.1,367.2 488.1,361.2 487.1,355.3 486.1,351.7 485.1,348.6 484.1,345.4 483.1,342.6 482.1,339.8 481.1,337.1 480.1,334.3 479.1,331.2 478.1,328.0 477.1,324.8 476.1,323.0 475.1,322.1 474.1,322.1 473.1,322.0 472.1,322.1 471.1,322.3 470.1,320.4 469.1,322.7 468.1,326.1 467.1,329.1 466.1,331.6 465.1,333.3 464.1,334.1 463.1,334.0 462.1,333.9 461.1,334.0 460.1,334.0 459.1,341.6 458.1,346.8 457.1,351.7 456.1,356.1 455.1,359.7 454.1,363.4 453.1,372.4 452.1,387.9 451.1,400.0 450.1,407.9 449.1,413.8 448.1,417.2 447.1,420.7 446.1,424.4 445.1,427.5 444.1,429.8 443.1,432.2 442.1,434.6 441.0,437.7 440.0,441.5 439.0,445.3 438.0,446.6 437.0,446.4 436.0,446.2 435.0,446.3 434.0,446.3 433.0,446.0 432.0,445.8 431.0,444.7 430.0,442.8 429.0,440.8 428.0,440.0 427.0,440.0 426.0,440.2 425.0,439.2 424.0,437.4 423.0,435.6 422.0,433.1 421.0,430.1 420.0,427.0 419.0,426.0 418.0,426.0 417.0,425.6 416.0,425.1 415.0,424.6 414.0,423.0 413.0,420.9 412.0,418.8 411.0,415.7 410.0,413.8 409.0,414.7 408.0,417.5 407.0,420.7 406.0,423.9 405.0,428.0 404.0,432.4 403.0,436.8 402.0,442.2 401.0,447.8 400.0,453.4 399.0,456.9 398.0,459.9 397.0,462.9 396.0,462.7 395.0,462.5 394.0,462.5 393.0,462.7 392.0,461.8 391.0,463.1 390.0,465.1 389.0,466.9 388.0,471.2 387.0,475.7 386.0,480.0 385.0,482.2 384.0,484.2 383.0,486.3 382.0,488.4 381.0,489.3 380.0,490.2 379.0,491.1 378.0,492.0 377.0,492.2 376.0,492.2 375.0,492.2 374.0,492.2 373.0,492.2 372.0,492.2 371.0,492.2 370.0,492.2 369.0,492.2 368.0,492.2 367.0,492.2 366.0,492.2" fill="#ff7f0e" fill-opacity="0.075" clip-path="url(#cD)" filter="url(#bl)"/>
<polygon points="366.0,488.4 367.0,488.2 368.0,488.1 369.0,488.0 370.0,487.8 371.0,487.7 372.0,487.5 373.0,487.4 374.0,487.2 375.0,486.0 376.0,484.8 377.0,483.5 378.0,482.3 379.0,480.9 380.0,479.1 381.0,477.2 382.0,475.3 383.0,473.4 384.0,471.6 385.0,470.2 386.0,468.9 387.0,467.6 388.0,466.1 389.0,463.5 390.0,460.9 391.0,458.3 392.0,455.5 393.0,452.4 394.0,449.3 395.0,445.4 396.0,438.7 397.0,432.0 398.0,424.7 399.0,417.5 400.0,410.7 401.0,405.4 402.0,405.1 403.0,404.9 404.0,404.9 405.0,404.9 406.0,405.3 407.0,405.7 408.0,406.3 409.0,407.7 410.0,409.2 411.0,410.4 412.0,411.1 413.0,411.9 414.0,412.0 415.0,411.7 416.0,411.3 417.0,411.3 418.0,411.3 419.0,411.3 420.0,411.5 421.0,412.1 422.0,414.5 423.0,416.6 424.0,416.6 425.0,416.5 426.0,416.6 427.0,416.7 428.0,417.9 429.0,421.0 430.0,424.1 431.0,426.6 432.0,428.3 433.0,429.9 434.0,430.0 435.0,428.7 436.0,426.4 437.0,423.0 438.0,419.5 439.0,416.0 440.0,412.9 441.0,410.0 442.1,407.1 443.1,404.2 444.1,400.4 445.1,395.8 446.1,389.3 447.1,381.1 448.1,372.8 449.1,364.4 450.1,356.2 451.1,347.9 452.1,339.6 453.1,330.2 454.1,319.9 455.1,309.5 456.1,303.5 457.1,299.6 458.1,299.3 459.1,299.1 460.1,299.2 461.1,299.4 462.1,301.4 463.1,304.0 464.1,303.4 465.1,301.8 466.1,300.4 467.1,299.0 468.1,297.6 469.1,295.8 470.1,294.0 471.1,292.6 472.1,292.5 473.1,292.4 474.1,292.4 475.1,292.5 476.1,293.2 477.1,294.5 478.1,298.9 479.1,304.0 480.1,312.4 481.1,320.7 482.1,329.1 483.1,337.4 484.1,345.8 485.1,354.1 486.1,362.3 487.1,370.5 488.1,378.8 489.1,386.9 490.1,394.1 491.1,401.3 492.1,408.5 493.1,415.4 494.1,422.3 495.1,428.8 496.1,434.4 497.1,439.9 498.1,445.0 499.1,449.2 500.1,453.3 501.1,457.0 502.1,459.8 503.1,462.5 504.1,465.0 505.1,466.7 506.1,468.3 507.1,469.7 508.1,470.2 509.1,470.7 510.1,470.1 511.1,466.5 512.1,462.8 513.1,458.8 514.1,454.6 515.1,450.4 516.1,446.9 517.1,444.2 518.1,441.6 519.1,441.4 520.1,441.3 521.1,441.4 522.1,441.6 523.1,444.0 524.1,446.4 525.1,448.1 526.1,446.5 527.1,445.1 528.1,443.8 529.1,442.6 530.1,442.5 531.1,442.5 532.1,442.6 533.1,442.6 534.1,444.2 535.1,446.0 536.1,448.9 537.1,452.7 538.1,456.4 539.1,459.5 540.1,461.9 541.1,463.3 542.1,463.3 543.1,463.3 544.1,463.3 545.1,463.3 546.1,463.5 547.1,465.0 548.1,467.3 549.1,469.7 550.1,470.9 551.1,471.4 552.1,472.0 553.1,472.5 554.1,473.4 555.1,474.4 556.1,475.5 557.1,476.5 558.1,477.8 559.1,479.1 560.1,480.4 561.1,481.7 562.1,482.4 563.1,482.9 564.1,483.3 565.1,483.7 566.1,483.9 567.1,483.4 568.1,482.6 569.1,481.3 570.1,479.9 571.1,477.6 572.1,472.6 573.1,466.6 574.1,457.4 575.1,448.6 576.1,441.2 577.1,435.0 578.1,432.3 579.1,429.7 580.1,427.6 581.1,426.4 582.1,424.5 583.1,421.0 584.1,414.8 585.1,403.7 586.1,393.7 587.1,385.7 588.1,381.2 589.1,380.0 590.1,379.8 591.1,379.7 592.1,379.9 593.1,380.1 594.1,383.4 595.2,387.7 596.2,393.8 597.2,399.4 598.2,403.7 599.2,408.0 600.2,412.6 601.2,417.4 602.2,422.3 603.2,426.8 604.2,430.9 605.2,435.0 606.2,438.2 607.2,440.3 608.2,442.4 609.2,444.8 610.2,447.6 611.2,450.4 612.2,453.2 613.2,456.1 614.2,459.0 615.2,461.6 616.2,464.0 617.2,466.3 618.2,468.1 619.2,469.4 620.2,470.8 621.2,472.1 622.2,473.5 623.2,475.1 624.2,476.6 625.2,478.1 626.2,479.4 627.2,480.5 628.2,481.5 629.2,482.6 630.2,482.0 631.2,480.7 632.2,479.3 633.2,477.0 634.2,474.3 635.2,471.6 636.2,470.3 637.2,469.9 638.2,469.5 639.2,469.5 640.2,469.4 641.2,469.5 642.2,469.5 643.2,470.0 644.2,470.7 645.2,471.4 646.2,472.1 647.2,471.7 648.2,471.3 649.2,471.0 650.2,470.7 651.2,470.5 652.2,470.4 653.2,470.4 654.2,470.4 655.2,470.4 656.2,470.4 657.2,470.4 658.2,470.5 659.2,470.5 660.2,471.8 661.2,473.1 662.2,474.5 663.2,475.0 664.2,475.3 665.2,475.7 666.2,475.8 667.2,474.7 668.2,473.7 669.2,473.6 670.2,473.6 670.2,483.0 669.2,484.0 668.2,484.9 667.2,484.9 666.2,484.8 665.2,484.9 664.2,484.9 663.2,484.3 662.2,483.6 661.2,482.9 660.2,482.6 659.2,482.4 658.2,482.0 657.2,480.7 656.2,479.4 655.2,478.2 654.2,478.5 653.2,478.7 652.2,479.0 651.2,479.3 650.2,480.0 649.2,480.6 648.2,481.0 647.2,480.9 646.2,480.9 645.2,480.9 644.2,481.0 643.2,480.3 642.2,479.7 641.2,479.1 640.2,478.4 639.2,479.1 638.2,481.7 637.2,484.3 636.2,486.4 635.2,487.6 634.2,488.8 633.2,489.6 632.2,489.5 631.2,489.5 630.2,489.5 629.2,489.5 628.2,489.5 627.2,489.5 626.2,489.6 625.2,489.3 624.2,488.3 623.2,487.3 622.2,486.4 621.2,485.2 620.2,483.8 619.2,482.4 618.2,481.0 617.2,479.7 616.2,478.5 615.2,477.4 614.2,476.2 613.2,474.6 612.2,472.4 611.2,470.3 610.2,467.9 609.2,465.3 608.2,462.7 607.2,460.1 606.2,457.6 605.2,455.0 604.2,452.9 603.2,451.0 602.2,449.2 601.2,446.3 600.2,442.6 599.2,438.8 598.2,434.7 597.2,430.3 596.2,425.9 595.2,421.7 594.1,417.9 593.1,414.1 592.1,409.0 591.1,403.2 590.1,408.4 589.1,417.9 588.1,428.5 587.1,434.1 586.1,437.0 585.1,438.6 584.1,439.4 583.1,441.3 582.1,443.6 581.1,445.8 580.1,451.5 579.1,458.4 578.1,466.5 577.1,475.1 576.1,480.6 575.1,485.1 574.1,487.0 573.1,488.1 572.1,489.3 571.1,490.0 570.1,490.4 569.1,490.9 568.1,491.4 567.1,491.4 566.1,491.3 565.1,491.4 564.1,491.4 563.1,491.1 562.1,490.6 561.1,490.2 560.1,489.9 559.1,489.5 558.1,489.1 557.1,488.5 556.1,487.3 555.1,486.1 554.1,484.9 553.1,483.7 552.1,482.8 551.1,481.8 550.1,480.8 549.1,480.1 548.1,479.6 547.1,479.1 546.1,478.8 545.1,477.7 544.1,475.5 543.1,473.2 542.1,473.2 541.1,473.2 540.1,473.2 539.1,473.2 538.1,473.3 537.1,472.9 536.1,470.7 535.1,468.5 534.1,465.7 533.1,462.2 532.1,458.6 531.1,456.0 530.1,456.6 529.1,458.1 528.1,459.7 527.1,460.0 526.1,459.9 525.1,459.9 524.1,459.9 523.1,460.0 522.1,459.0 521.1,458.2 520.1,456.8 519.1,460.1 518.1,463.9 517.1,467.8 516.1,471.4 515.1,474.8 514.1,478.2 513.1,479.5 512.1,479.3 511.1,479.2 510.1,479.2 509.1,479.2 508.1,479.3 507.1,479.3 506.1,479.0 505.1,478.5 504.1,478.1 503.1,477.6 502.1,476.4 501.1,474.9 500.1,473.4 499.1,471.2 498.1,468.7 497.1,466.2 496.1,462.8 495.1,459.1 494.1,455.4 493.1,450.7 492.1,445.7 491.1,440.7 490.1,434.8 489.1,428.5 488.1,422.2 487.1,415.8 486.1,409.3 485.1,402.8 484.1,395.5 483.1,387.9 482.1,380.5 481.1,373.0 480.1,365.5 479.1,358.0 478.1,350.4 477.1,342.8 476.1,335.1 475.1,327.4 474.1,322.7 473.1,320.2 472.1,321.9 471.1,323.2 470.1,324.4 469.1,325.7 468.1,327.1 467.1,328.6 466.1,329.9 465.1,330.8 464.1,330.7 463.1,330.7 462.1,330.7 461.1,330.9 460.1,330.6 459.1,332.1 458.1,341.9 457.1,351.6 456.1,360.1 455.1,367.5 454.1,374.9 453.1,382.4 452.1,389.9 451.1,397.5 450.1,405.1 449.1,411.1 448.1,415.1 447.1,418.5 446.1,421.0 445.1,423.5 444.1,426.1 443.1,429.0 442.1,432.2 441.0,435.4 440.0,438.5 439.0,440.6 438.0,441.7 437.0,442.9 436.0,443.2 435.0,443.2 434.0,443.2 433.0,443.2 432.0,443.2 431.0,442.9 430.0,442.7 429.0,441.7 428.0,440.2 427.0,438.7 426.0,436.4 425.0,433.5 424.0,431.0 423.0,430.9 422.0,430.9 421.0,431.0 420.0,431.1 419.0,429.9 418.0,427.6 417.0,425.7 416.0,426.0 415.0,426.3 414.0,426.2 413.0,426.2 412.0,426.3 411.0,426.3 410.0,425.9 409.0,425.2 408.0,424.6 407.0,423.9 406.0,422.8 405.0,421.5 404.0,423.8 403.0,430.3 402.0,436.9 401.0,443.5 400.0,449.8 399.0,455.9 398.0,459.3 397.0,462.0 396.0,464.8 395.0,467.3 394.0,469.6 393.0,472.1 392.0,474.5 391.0,475.7 390.0,476.9 389.0,478.0 388.0,479.2 387.0,480.9 386.0,482.6 385.0,484.4 384.0,486.1 383.0,487.8 382.0,489.0 381.0,490.1 380.0,491.2 379.0,492.2 378.0,492.2 377.0,492.2 376.0,492.2 375.0,492.2 374.0,492.2 373.0,492.2 372.0,492.2 371.0,492.2 370.0,492.2 369.0,492.2 368.0,492.2 367.0,492.2 366.0,492.2" fill="#d62728" fill-opacity="0.075" clip-path="url(#cD)" filter="url(#bl)"/>
<polygon points="366.0,489.3 367.0,489.1 368.0,489.0 369.0,488.8 370.0,488.6 371.0,488.4 372.0,488.2 373.0,487.2 374.0,486.2 375.0,485.1 376.0,484.1 377.0,482.9 378.0,480.1 379.0,477.2 380.0,474.4 381.0,471.4 382.0,468.0 383.0,464.5 384.0,461.1 385.0,458.3 386.0,455.5 387.0,452.7 388.0,450.6 389.0,448.4 390.0,445.8 391.0,441.7 392.0,438.8 393.0,438.6 394.0,438.5 395.0,435.7 396.0,431.1 397.0,425.9 398.0,420.7 399.0,415.0 400.0,410.2 401.0,409.0 402.0,408.4 403.0,408.4 404.0,408.3 405.0,408.4 406.0,408.5 407.0,410.6 408.0,412.7 409.0,414.6 410.0,416.1 411.0,416.4 412.0,416.4 413.0,416.5 414.0,416.2 415.0,413.9 416.0,412.7 417.0,412.6 418.0,412.5 419.0,412.6 420.0,412.7 421.0,414.0 422.0,415.5 423.0,417.2 424.0,419.7 425.0,422.1 426.0,424.2 427.0,425.6 428.0,427.1 429.0,428.6 430.0,430.4 431.0,432.1 432.0,434.0 433.0,436.1 434.0,437.4 435.0,434.7 436.0,431.3 437.0,427.2 438.0,423.1 439.0,418.8 440.0,414.5 441.0,410.2 442.1,406.3 443.1,402.8 444.1,399.3 445.1,393.5 446.1,385.9 447.1,379.0 448.1,372.6 449.1,364.6 450.1,355.1 451.1,345.5 452.1,337.0 453.1,329.2 454.1,321.5 455.1,313.2 456.1,304.5 457.1,300.1 458.1,298.0 459.1,296.5 460.1,296.4 461.1,296.3 462.1,296.5 463.1,296.8 464.1,301.4 465.1,305.2 466.1,303.0 467.1,300.7 468.1,298.9 469.1,298.8 470.1,298.7 471.1,298.8 472.1,298.8 473.1,300.4 474.1,301.6 475.1,301.5 476.1,301.6 477.1,301.9 478.1,302.7 479.1,310.3 480.1,318.8 481.1,332.0 482.1,346.0 483.1,360.3 484.1,372.0 485.1,382.3 486.1,392.0 487.1,399.0 488.1,406.0 489.1,413.0 490.1,420.2 491.1,427.3 492.1,434.4 493.1,441.4 494.1,448.3 495.1,454.8 496.1,460.4 497.1,465.8 498.1,470.7 499.1,474.2 500.1,477.6 501.1,480.3 502.1,481.2 503.1,482.1 504.1,483.0 505.1,483.7 506.1,483.8 507.1,484.0 508.1,484.2 509.1,484.1 510.1,484.1 511.1,483.7 512.1,483.0 513.1,482.3 514.1,481.5 515.1,480.7 516.1,479.9 517.1,479.0 518.1,478.2 519.1,477.3 520.1,477.1 521.1,477.1 522.1,477.1 523.1,477.1 524.1,477.2 525.1,478.0 526.1,478.8 527.1,479.2 528.1,479.0 529.1,479.0 530.1,479.0 531.1,479.0 532.1,479.0 533.1,479.2 534.1,479.9 535.1,480.5 536.1,481.1 537.1,481.7 538.1,482.1 539.1,482.3 540.1,482.5 541.1,482.7 542.1,482.8 543.1,483.0 544.1,483.3 545.1,483.6 546.1,484.0 547.1,484.3 548.1,484.6 549.1,485.0 550.1,485.2 551.1,485.5 552.1,485.8 553.1,486.0 554.1,486.3 555.1,486.6 556.1,486.8 557.1,487.1 558.1,487.3 559.1,487.5 560.1,487.6 561.1,487.8 562.1,488.0 563.1,488.1 564.1,488.1 565.1,487.9 566.1,487.7 567.1,487.3 568.1,487.0 569.1,486.6 570.1,486.3 571.1,485.8 572.1,484.8 573.1,483.8 574.1,482.7 575.1,481.3 576.1,478.6 577.1,475.9 578.1,472.9 579.1,469.4 580.1,465.8 581.1,463.2 582.1,462.3 583.1,461.5 584.1,460.7 585.1,459.7 586.1,458.6 587.1,458.5 588.1,458.4 589.1,458.4 590.1,458.5 591.1,458.6 592.1,460.4 593.1,463.3 594.1,468.3 595.2,472.5 596.2,474.9 597.2,477.3 598.2,479.3 599.2,480.7 600.2,482.0 601.2,483.2 602.2,484.2 603.2,484.7 604.2,485.2 605.2,485.8 606.2,486.3 607.2,486.8 608.2,487.2 609.2,487.4 610.2,487.6 611.2,487.8 612.2,488.0 613.2,488.2 614.2,488.4 615.2,488.6 616.2,488.7 617.2,488.8 618.2,488.8 619.2,488.8 620.2,488.8 621.2,488.8 622.2,488.8 623.2,488.8 624.2,488.9 625.2,488.9 626.2,488.9 627.2,488.9 628.2,488.9 629.2,488.9 630.2,489.0 631.2,489.0 632.2,489.0 633.2,489.0 634.2,489.0 635.2,489.0 636.2,489.0 637.2,489.1 638.2,489.1 639.2,489.1 640.2,489.1 641.2,489.1 642.2,489.1 643.2,489.1 644.2,489.1 645.2,489.1 646.2,489.1 647.2,489.1 648.2,489.1 649.2,489.1 650.2,489.1 651.2,489.1 652.2,489.1 653.2,489.1 654.2,489.1 655.2,489.1 656.2,489.1 657.2,489.1 658.2,489.1 659.2,489.1 660.2,489.1 661.2,489.1 662.2,489.1 663.2,489.1 664.2,489.1 665.2,489.1 666.2,489.1 667.2,489.1 668.2,489.1 669.2,489.1 670.2,489.1 670.2,492.2 669.2,492.2 668.2,492.2 667.2,492.2 666.2,492.2 665.2,492.2 664.2,492.2 663.2,492.2 662.2,492.2 661.2,492.2 660.2,492.2 659.2,492.2 658.2,492.2 657.2,492.2 656.2,492.2 655.2,492.2 654.2,492.2 653.2,492.2 652.2,492.2 651.2,492.2 650.2,492.2 649.2,492.2 648.2,492.2 647.2,492.2 646.2,492.2 645.2,492.2 644.2,492.2 643.2,492.2 642.2,492.2 641.2,492.2 640.2,492.2 639.2,492.2 638.2,492.2 637.2,492.2 636.2,492.2 635.2,492.2 634.2,492.2 633.2,492.2 632.2,492.2 631.2,492.2 630.2,492.2 629.2,492.2 628.2,492.2 627.2,492.2 626.2,492.2 625.2,492.2 624.2,492.2 623.2,492.2 622.2,492.2 621.2,492.2 620.2,492.2 619.2,492.2 618.2,492.2 617.2,492.2 616.2,492.2 615.2,492.2 614.2,492.2 613.2,492.2 612.2,492.2 611.2,492.2 610.2,492.2 609.2,492.2 608.2,492.2 607.2,492.0 606.2,491.8 605.2,491.7 604.2,491.5 603.2,491.1 602.2,490.7 601.2,490.2 600.2,489.7 599.2,489.3 598.2,488.8 597.2,488.0 596.2,486.8 595.2,485.6 594.1,484.5 593.1,482.6 592.1,480.5 591.1,478.4 590.1,474.5 589.1,469.6 588.1,467.6 587.1,468.3 586.1,468.9 585.1,469.5 584.1,472.0 583.1,475.4 582.1,478.7 581.1,481.3 580.1,483.8 579.1,486.3 578.1,487.5 577.1,488.4 576.1,489.3 575.1,490.3 574.1,490.7 573.1,491.0 572.1,491.3 571.1,491.6 570.1,491.9 569.1,492.1 568.1,492.2 567.1,492.2 566.1,492.2 565.1,492.2 564.1,492.2 563.1,492.2 562.1,492.2 561.1,492.2 560.1,492.2 559.1,492.2 558.1,492.2 557.1,492.0 556.1,491.9 555.1,491.7 554.1,491.6 553.1,491.4 552.1,491.1 551.1,490.9 550.1,490.7 549.1,490.4 548.1,490.2 547.1,490.0 546.1,489.7 545.1,489.5 544.1,489.2 543.1,488.9 542.1,488.6 541.1,488.3 540.1,487.9 539.1,487.7 538.1,487.5 537.1,487.4 536.1,487.2 535.1,487.1 534.1,486.9 533.1,486.6 532.1,486.0 531.1,485.4 530.1,484.8 529.1,484.6 528.1,484.8 527.1,484.8 526.1,484.8 525.1,484.8 524.1,484.8 523.1,484.6 522.1,483.9 521.1,484.1 520.1,484.9 519.1,485.6 518.1,486.3 517.1,487.0 516.1,487.7 515.1,488.4 514.1,488.7 513.1,488.7 512.1,488.8 511.1,488.9 510.1,489.0 509.1,488.9 508.1,488.9 507.1,488.9 506.1,489.0 505.1,488.9 504.1,488.7 503.1,488.6 502.1,488.5 501.1,488.3 500.1,487.7 499.1,486.9 498.1,486.1 497.1,485.4 496.1,483.0 495.1,479.9 494.1,476.8 493.1,472.3 492.1,467.3 491.1,462.4 490.1,456.4 489.1,450.1 488.1,443.8 487.1,437.4 486.1,430.9 485.1,424.4 484.1,418.1 483.1,411.9 482.1,405.8 481.1,396.9 480.1,387.7 479.1,377.0 478.1,363.9 477.1,350.8 476.1,338.7 475.1,330.8 474.1,324.5 473.1,324.5 472.1,324.5 471.1,324.3 470.1,324.7 469.1,326.6 468.1,331.3 467.1,336.1 466.1,336.1 465.1,335.9 464.1,335.8 463.1,336.3 462.1,336.5 461.1,327.5 460.1,325.7 459.1,334.0 458.1,341.7 457.1,348.6 456.1,355.5 455.1,363.3 454.1,372.1 453.1,380.8 452.1,388.1 451.1,393.6 450.1,399.9 449.1,407.0 448.1,412.3 447.1,415.3 446.1,418.3 445.1,421.8 444.1,425.8 443.1,429.7 442.1,433.5 441.0,437.3 440.0,441.0 439.0,444.1 438.0,446.6 437.0,449.1 436.0,449.6 435.0,449.4 434.0,449.4 433.0,449.5 432.0,449.5 431.0,448.6 430.0,447.2 429.0,445.3 428.0,443.3 427.0,441.6 426.0,440.1 425.0,438.5 424.0,437.1 423.0,435.8 422.0,434.5 421.0,432.6 420.0,430.4 419.0,428.1 418.0,427.3 417.0,429.6 416.0,429.6 415.0,429.4 414.0,429.4 413.0,429.5 412.0,429.5 411.0,428.5 410.0,428.1 409.0,428.1 408.0,428.1 407.0,428.2 406.0,427.3 405.0,425.9 404.0,424.1 403.0,425.9 402.0,431.3 401.0,436.2 400.0,440.8 399.0,445.2 398.0,449.4 397.0,449.2 396.0,449.0 395.0,450.1 394.0,454.2 393.0,456.5 392.0,458.4 391.0,460.3 390.0,462.8 389.0,465.3 388.0,467.9 387.0,471.0 386.0,474.1 385.0,477.3 384.0,479.9 383.0,482.5 382.0,485.1 381.0,487.7 380.0,488.8 379.0,489.6 378.0,490.6 377.0,491.5 376.0,492.2 375.0,492.2 374.0,492.2 373.0,492.2 372.0,492.2 371.0,492.2 370.0,492.2 369.0,492.2 368.0,492.2 367.0,492.2 366.0,492.2" fill="#9467bd" fill-opacity="0.075" clip-path="url(#cD)" filter="url(#bl)"/>
<path d="M62.0,261.3C65.0,261.2 75.7,261.5 80.0,260.6C84.3,259.7 85.8,257.9 87.8,256.0C89.8,254.1 90.5,252.3 91.8,249.4C93.1,246.5 94.8,241.7 95.8,238.5C96.8,235.3 97.0,234.5 97.8,230.5C98.6,226.5 100.0,219.7 100.8,214.6C101.6,209.5 102.0,203.0 102.8,199.7C103.6,196.4 104.7,197.3 105.7,194.7C106.7,192.0 107.7,185.8 108.7,183.8C109.7,181.8 110.9,183.6 111.7,182.8C112.5,182.0 112.8,182.6 113.3,178.8C113.8,175.0 114.5,165.4 115.0,160.0C115.5,154.6 116.2,151.2 116.6,146.6C117.0,141.9 117.2,134.9 117.6,132.1C117.9,129.2 118.2,129.6 118.7,129.5C119.2,129.4 120.0,130.9 120.7,131.6C121.4,132.3 122.0,132.9 122.8,133.7C123.6,134.5 124.7,136.2 125.4,136.3C126.1,136.4 126.3,135.8 126.9,134.2C127.5,132.6 128.4,128.9 129.0,126.9C129.6,124.9 130.0,123.4 130.6,122.3C131.2,121.2 132.0,121.2 132.6,120.2C133.2,119.2 133.8,118.2 134.2,116.6C134.6,115.0 134.8,112.7 135.2,110.4C135.5,108.2 135.8,106.2 136.3,103.1C136.9,100.0 137.8,96.3 138.5,91.6C139.2,86.9 139.7,78.7 140.5,74.7C141.3,70.7 142.7,68.2 143.5,67.4C144.3,66.6 144.8,68.6 145.5,69.8C146.2,71.0 146.5,73.5 147.5,74.7C148.5,75.9 150.2,76.2 151.5,76.7C152.8,77.2 154.1,76.9 155.4,77.7C156.7,78.5 158.5,80.5 159.4,81.7C160.3,82.9 160.4,83.8 161.0,85.0C161.6,86.2 162.2,88.8 163.0,88.7C163.8,88.7 165.0,85.7 166.0,84.7C167.0,83.7 168.1,82.8 168.9,82.7C169.7,82.6 169.9,81.9 170.9,84.1C171.9,86.2 173.6,92.8 174.9,95.6C176.2,98.3 177.7,100.1 178.9,100.6C180.1,101.1 180.8,98.9 181.9,98.6C183.1,98.3 184.5,99.0 185.8,98.6C187.1,98.2 188.6,94.8 189.8,96.0C191.0,97.2 191.8,102.5 192.8,105.6C193.8,108.7 194.8,113.2 195.8,114.5C196.8,115.8 198.0,113.8 198.8,113.5C199.6,113.2 199.8,113.0 200.8,112.5C201.8,112.0 203.4,110.5 204.7,110.5C206.0,110.5 207.4,111.2 208.7,112.5C210.0,113.8 211.4,117.5 212.7,118.5C214.0,119.5 215.4,117.5 216.7,118.5C218.0,119.5 219.4,122.9 220.6,124.4C221.8,125.9 222.7,126.6 223.6,127.4C224.5,128.2 225.2,130.1 226.2,129.4C227.2,128.8 228.2,125.5 229.6,123.5C231.0,121.5 232.9,120.3 234.6,117.5C236.2,114.7 238.0,108.4 239.5,106.6C241.0,104.8 242.2,107.9 243.5,106.6C244.8,105.3 246.3,100.4 247.5,98.6C248.7,96.8 249.5,100.4 250.5,95.6C251.5,90.8 252.4,73.8 253.4,69.8C254.4,65.8 255.6,71.3 256.4,71.8C257.2,72.3 257.2,72.4 258.0,72.7C258.8,73.0 260.0,73.0 261.0,73.7C262.0,74.4 262.9,74.4 264.0,76.7C265.1,79.0 266.6,82.6 267.9,87.6C269.2,92.6 270.6,103.5 271.9,106.5C273.2,109.5 274.6,105.5 275.9,105.5C277.2,105.5 278.5,106.7 279.8,106.5C281.1,106.3 282.3,104.7 283.8,104.5C285.3,104.3 287.3,104.2 288.8,105.5C290.3,106.8 291.5,110.2 292.8,112.4C294.1,114.6 295.4,116.9 296.7,118.4C298.0,119.9 299.4,120.7 300.7,121.4C302.0,122.1 303.5,121.8 304.7,122.4C305.9,123.0 306.6,125.2 307.6,124.9C308.6,124.6 309.4,123.1 310.6,120.4C311.8,117.7 313.3,112.3 314.6,108.5C315.9,104.7 317.5,100.0 318.6,97.5C319.8,95.0 320.4,93.3 321.5,93.6C322.6,93.9 324.3,100.2 325.5,99.5C326.7,98.8 327.5,92.9 328.5,89.6C329.5,86.3 330.5,80.7 331.5,79.7C332.5,78.7 333.5,80.5 334.5,83.6C335.5,86.7 336.2,96.7 337.4,98.5C338.5,100.3 340.1,94.7 341.4,94.5C342.7,94.3 343.8,95.0 345.4,97.5C347.0,100.0 349.5,109.1 351.3,109.4C353.1,109.7 355.0,100.3 356.3,99.5C357.6,98.7 358.2,102.5 359.3,104.5C360.4,106.5 362.1,109.9 363.2,111.4C364.3,112.9 365.7,113.1 366.2,113.4" fill="none" stroke="#f07a10" stroke-width="1.5" stroke-linejoin="round" stroke-linecap="round" clip-path="url(#cA)"/>
<path d="M62.0,261.3C64.7,261.1 73.8,261.1 77.9,260.3C82.1,259.5 84.8,257.8 86.9,256.3C89.1,254.8 89.7,253.6 90.8,251.4C91.9,249.2 92.8,245.6 93.8,243.4C94.8,241.2 95.8,241.0 96.8,238.5C97.8,236.0 98.6,232.2 99.8,228.5C101.0,224.8 102.2,220.9 103.7,216.6C105.2,212.3 107.4,207.7 108.7,202.7C110.0,197.7 110.9,192.1 111.7,186.8C112.5,181.5 113.1,177.2 113.7,170.9C114.3,164.6 114.9,154.1 115.5,148.7C116.1,143.3 116.7,141.2 117.1,138.3C117.5,135.4 117.8,132.8 118.1,131.1C118.4,129.4 118.8,128.2 119.2,128.0C119.6,127.8 119.9,129.6 120.2,130.0C120.5,130.4 120.9,131.4 121.2,130.6C121.5,129.8 122.0,126.6 122.3,124.9C122.6,123.2 122.9,122.4 123.3,120.7C123.7,119.0 124.1,115.9 124.4,114.5C124.8,113.1 125.0,113.0 125.4,112.4C125.8,111.8 126.4,111.2 126.9,110.9C127.4,110.6 128.1,111.2 128.5,110.4C128.9,109.6 129.0,108.7 129.5,106.2C130.0,103.7 130.6,98.0 131.6,95.6C132.6,93.2 134.4,92.6 135.6,91.6C136.8,90.6 137.7,91.5 138.5,89.7C139.3,87.9 140.0,82.4 140.5,80.7C141.0,79.0 140.9,79.7 141.5,79.7C142.1,79.8 143.0,80.8 144.0,81.0C145.0,81.2 146.4,80.6 147.5,80.7C148.6,80.8 149.2,79.9 150.5,81.7C151.8,83.5 153.6,87.1 155.4,91.6C157.2,96.1 160.1,105.3 161.4,108.5C162.7,111.7 162.2,108.7 163.0,110.5C163.8,112.3 165.0,113.4 166.0,119.5C167.0,125.6 167.9,139.4 168.9,147.0C169.9,154.6 170.9,158.9 171.9,164.9C172.9,170.9 173.9,176.8 174.9,182.8C175.9,188.8 176.9,195.2 177.9,200.7C178.9,206.2 180.0,212.8 180.9,215.6C181.8,218.4 182.7,217.8 183.5,217.6C184.3,217.4 184.9,216.1 185.8,214.6C186.7,213.1 187.9,210.2 188.8,208.6C189.7,207.0 190.6,204.8 191.4,205.0C192.2,205.2 192.9,207.3 193.8,209.6C194.7,211.9 195.8,215.8 196.8,218.6C197.8,221.4 198.7,223.7 199.8,226.5C201.0,229.3 202.4,232.7 203.7,235.5C205.0,238.3 206.4,241.4 207.7,243.4C209.0,245.4 210.4,246.2 211.7,247.4C213.0,248.6 214.4,249.8 215.7,250.4C217.0,251.0 218.3,250.5 219.6,250.8C220.9,251.1 222.3,251.4 223.6,252.0C224.9,252.6 226.3,253.8 227.6,254.4C228.9,255.0 230.3,255.2 231.6,255.4C232.9,255.6 234.2,255.2 235.5,255.4C236.8,255.6 238.2,256.3 239.5,256.3C240.8,256.3 242.2,256.1 243.5,255.4C244.8,254.8 246.2,254.2 247.5,252.4C248.8,250.6 250.2,247.6 251.5,244.4C252.8,241.2 254.3,236.7 255.4,233.0C256.5,229.3 257.2,226.7 258.0,222.5C258.8,218.3 259.3,212.4 260.0,208.0C260.7,203.6 261.2,199.9 262.0,196.0C262.8,192.1 264.0,187.7 265.0,184.7C266.0,181.7 267.1,178.8 267.9,177.8C268.7,176.8 269.2,177.3 269.9,178.8C270.6,180.3 271.1,184.9 271.9,186.7C272.7,188.5 273.9,188.4 274.9,189.7C275.9,191.0 276.9,194.4 277.9,194.7C278.9,195.0 279.8,194.3 280.8,191.7C281.8,189.0 282.8,182.9 283.8,178.8C284.8,174.7 286.0,170.9 286.8,166.9C287.6,162.9 288.2,158.2 288.8,154.9C289.4,151.6 289.6,150.6 290.2,147.0C290.8,143.4 291.8,136.1 292.7,133.3C293.6,130.5 294.7,133.3 295.7,130.3C296.7,127.3 297.5,119.4 298.7,115.4C299.9,111.4 301.4,110.0 302.7,106.5C304.0,103.0 305.3,98.0 306.6,94.5C307.9,91.0 309.1,88.2 310.6,85.6C312.1,83.0 314.1,81.0 315.6,78.7C317.1,76.4 318.5,74.0 319.6,71.7C320.8,69.4 321.5,65.6 322.5,64.8C323.5,64.0 324.3,67.2 325.5,66.8C326.7,66.4 328.3,62.1 329.5,62.2C330.7,62.4 331.4,66.1 332.5,67.7C333.6,69.3 335.2,68.7 336.4,71.7C337.5,74.7 338.4,82.3 339.4,85.6C340.4,88.9 341.2,89.6 342.4,91.6C343.6,93.6 344.9,94.4 346.4,97.5C347.9,100.6 349.8,107.4 351.3,110.4C352.8,113.4 354.3,113.9 355.3,115.4C356.3,116.9 356.5,118.9 357.3,119.4C358.1,119.9 358.8,117.1 360.3,118.4C361.8,119.7 365.2,125.8 366.2,127.3" fill="none" stroke="#24a02c" stroke-width="1.5" stroke-linejoin="round" stroke-linecap="round" clip-path="url(#cA)"/>
<path d="M62.0,491.8C65.0,491.7 75.7,492.0 80.0,491.1C84.3,490.2 85.8,488.4 87.8,486.5C89.8,484.6 90.5,482.8 91.8,479.9C93.1,477.0 94.8,472.1 95.8,469.0C96.8,465.9 97.0,465.0 97.8,461.0C98.6,457.0 100.0,450.2 100.8,445.1C101.6,440.0 102.0,433.5 102.8,430.2C103.6,426.9 104.7,427.8 105.7,425.2C106.7,422.6 107.7,416.3 108.7,414.3C109.7,412.3 110.9,414.1 111.7,413.3C112.5,412.5 112.8,413.1 113.3,409.3C113.8,405.5 114.5,395.9 115.0,390.5C115.5,385.1 116.2,381.8 116.6,377.1C117.0,372.5 117.2,365.5 117.6,362.6C117.9,359.8 118.2,360.1 118.7,360.0C119.2,359.9 120.0,361.4 120.7,362.1C121.4,362.8 122.0,363.4 122.8,364.2C123.6,365.0 124.7,366.7 125.4,366.8C126.1,366.9 126.3,366.3 126.9,364.7C127.5,363.1 128.4,359.4 129.0,357.4C129.6,355.4 130.0,353.9 130.6,352.8C131.2,351.7 132.0,351.6 132.6,350.7C133.2,349.8 133.8,348.7 134.2,347.1C134.6,345.5 134.8,343.1 135.2,340.9C135.5,338.6 135.8,336.7 136.3,333.6C136.9,330.5 137.8,326.8 138.5,322.1C139.2,317.4 139.7,309.2 140.5,305.2C141.3,301.2 142.7,298.7 143.5,297.9C144.3,297.1 144.8,299.1 145.5,300.3C146.2,301.5 146.5,304.1 147.5,305.2C148.5,306.3 150.2,306.7 151.5,307.2C152.8,307.7 154.1,307.4 155.4,308.2C156.7,309.0 158.5,311.0 159.4,312.2C160.3,313.4 160.4,314.3 161.0,315.5C161.6,316.7 162.2,319.2 163.0,319.2C163.8,319.1 165.0,316.2 166.0,315.2C167.0,314.2 168.1,313.3 168.9,313.2C169.7,313.1 169.9,312.5 170.9,314.6C171.9,316.8 173.6,323.4 174.9,326.1C176.2,328.9 177.7,330.6 178.9,331.1C180.1,331.6 180.8,329.4 181.9,329.1C183.1,328.8 184.5,329.5 185.8,329.1C187.1,328.7 188.6,325.3 189.8,326.5C191.0,327.7 191.8,333.0 192.8,336.1C193.8,339.2 194.8,343.7 195.8,345.0C196.8,346.3 198.0,344.3 198.8,344.0C199.6,343.7 199.8,343.5 200.8,343.0C201.8,342.5 203.4,341.0 204.7,341.0C206.0,341.0 207.4,341.7 208.7,343.0C210.0,344.3 211.4,348.0 212.7,349.0C214.0,350.0 215.4,348.0 216.7,349.0C218.0,350.0 219.4,353.4 220.6,354.9C221.8,356.4 222.7,357.1 223.6,357.9C224.5,358.7 225.2,360.5 226.2,359.9C227.2,359.2 228.2,356.0 229.6,354.0C231.0,352.0 232.9,350.8 234.6,348.0C236.2,345.2 238.0,338.9 239.5,337.1C241.0,335.3 242.2,338.4 243.5,337.1C244.8,335.8 246.3,330.9 247.5,329.1C248.7,327.3 249.5,330.9 250.5,326.1C251.5,321.3 252.4,304.3 253.4,300.3C254.4,296.3 255.6,301.8 256.4,302.3C257.2,302.8 257.2,302.9 258.0,303.2C258.8,303.5 260.0,303.5 261.0,304.2C262.0,304.9 262.9,304.9 264.0,307.2C265.1,309.5 266.6,313.1 267.9,318.1C269.2,323.1 270.6,334.0 271.9,337.0C273.2,340.0 274.6,336.0 275.9,336.0C277.2,336.0 278.5,337.2 279.8,337.0C281.1,336.8 282.3,335.2 283.8,335.0C285.3,334.8 287.3,334.7 288.8,336.0C290.3,337.3 291.5,340.8 292.8,342.9C294.1,345.0 295.4,347.4 296.7,348.9C298.0,350.4 299.4,351.2 300.7,351.9C302.0,352.6 303.5,352.3 304.7,352.9C305.9,353.5 306.6,355.7 307.6,355.4C308.6,355.1 309.4,353.6 310.6,350.9C311.8,348.2 313.3,342.8 314.6,339.0C315.9,335.2 317.5,330.5 318.6,328.0C319.8,325.5 320.4,323.8 321.5,324.1C322.6,324.4 324.3,330.7 325.5,330.0C326.7,329.3 327.5,323.4 328.5,320.1C329.5,316.8 330.5,311.2 331.5,310.2C332.5,309.2 333.5,311.0 334.5,314.1C335.5,317.2 336.2,327.2 337.4,329.0C338.5,330.8 340.1,325.2 341.4,325.0C342.7,324.8 343.8,325.5 345.4,328.0C347.0,330.5 349.5,339.6 351.3,339.9C353.1,340.2 355.0,330.8 356.3,330.0C357.6,329.2 358.2,333.0 359.3,335.0C360.4,337.0 362.1,340.4 363.2,341.9C364.3,343.4 365.7,343.6 366.2,343.9" fill="none" stroke="#f07a10" stroke-width="1.5" stroke-linejoin="round" stroke-linecap="round" clip-path="url(#cB)"/>
<path d="M62.0,491.7C65.3,491.5 77.6,491.4 81.9,490.3C86.2,489.2 86.2,488.4 87.8,485.4C89.4,482.4 90.3,476.2 91.8,472.4C93.3,468.6 95.5,466.5 96.8,462.5C98.1,458.5 98.8,454.2 99.8,448.6C100.8,443.0 101.8,433.5 102.8,428.7C103.8,423.9 104.7,422.2 105.7,419.7C106.7,417.2 107.7,413.5 108.7,413.8C109.7,414.1 110.8,420.4 111.7,421.7C112.6,423.0 113.3,424.2 114.1,421.7C114.9,419.2 115.8,411.9 116.7,406.8C117.6,401.7 118.7,395.9 119.7,390.9C120.7,385.9 121.6,381.6 122.6,377.0C123.6,372.4 124.4,369.3 125.6,363.4C126.8,357.5 128.3,347.0 129.6,341.5C130.9,336.0 132.3,334.1 133.6,330.6C134.9,327.1 136.3,322.6 137.5,320.6C138.7,318.6 139.5,319.0 140.5,318.7C141.5,318.4 142.3,320.0 143.5,318.7C144.7,317.4 146.3,313.0 147.5,310.7C148.7,308.4 149.5,306.7 150.5,304.7C151.5,302.7 152.5,298.8 153.5,298.8C154.5,298.8 155.4,303.1 156.4,304.7C157.4,306.3 158.7,308.2 159.4,308.7C160.1,309.2 160.1,308.2 160.5,307.5C160.9,306.8 161.4,303.7 162.0,304.7C162.6,305.7 163.3,309.2 164.0,313.7C164.7,318.2 165.3,325.0 166.0,331.6C166.7,338.2 167.2,345.9 168.0,353.5C168.8,361.1 169.9,369.8 170.9,377.0C171.9,384.2 172.9,389.3 173.9,396.9C174.9,404.5 175.9,414.4 176.9,422.7C177.9,431.0 179.1,440.3 179.9,446.6C180.7,452.9 181.1,457.5 181.9,460.5C182.7,463.5 183.8,463.3 184.9,464.5C186.1,465.7 187.7,466.5 188.8,467.5C190.0,468.5 190.8,469.1 191.8,470.4C192.8,471.7 193.8,473.9 194.8,475.4C195.8,476.9 196.5,478.1 197.8,479.4C199.1,480.7 201.0,482.1 202.7,483.4C204.3,484.7 205.9,486.1 207.7,487.3C209.5,488.5 211.7,489.7 213.7,490.3C215.7,490.9 215.3,490.9 219.6,491.1C223.9,491.3 234.2,491.4 239.5,491.3C244.8,491.2 248.4,491.5 251.5,490.3C254.6,489.1 256.2,486.2 258.0,484.2C259.8,482.2 260.7,482.3 262.0,478.3C263.3,474.3 264.6,466.0 265.9,460.4C267.2,454.8 268.6,448.6 269.9,444.5C271.2,440.4 272.7,437.2 273.9,435.6C275.1,434.0 275.9,434.1 276.9,434.6C277.9,435.1 278.6,436.6 279.8,438.6C281.0,440.6 282.5,443.7 283.8,446.5C285.1,449.3 286.5,452.9 287.8,455.4C289.1,457.9 290.5,460.1 291.8,461.4C293.1,462.7 294.4,462.7 295.7,463.4C297.0,464.1 298.4,463.6 299.7,465.4C301.0,467.2 302.4,471.5 303.7,474.3C305.0,477.1 306.3,479.9 307.6,482.2C308.9,484.5 309.9,486.9 311.6,488.2C313.3,489.5 314.6,490.0 317.6,490.2C320.6,490.4 326.2,489.2 329.5,489.2C332.8,489.2 333.4,490.0 337.4,490.2C341.4,490.4 349.6,490.8 353.3,490.6C357.0,490.4 357.7,490.1 359.3,489.2C360.9,488.3 362.1,486.4 363.2,485.2C364.3,484.0 365.7,482.7 366.2,482.2" fill="none" stroke="#9a4ec4" stroke-width="1.5" stroke-linejoin="round" stroke-linecap="round" clip-path="url(#cB)"/>
<path d="M62.0,491.5C65.7,491.3 79.3,491.2 83.9,490.3C88.5,489.4 88.0,489.0 89.8,486.3C91.6,483.6 93.5,478.0 94.8,474.4C96.1,470.8 96.8,468.1 97.8,464.5C98.8,460.9 99.8,457.5 100.8,452.5C101.8,447.5 102.7,439.3 103.7,434.7C104.7,430.1 105.5,427.3 106.7,424.7C107.9,422.1 109.5,421.4 110.7,418.8C111.9,416.2 112.9,412.8 113.7,408.8C114.5,404.8 115.0,400.2 115.7,394.9C116.4,389.6 116.9,382.2 117.7,377.0C118.5,371.8 119.8,365.3 120.6,363.4C121.4,361.5 121.8,368.4 122.6,365.4C123.4,362.4 124.4,349.6 125.6,345.5C126.8,341.4 128.4,343.5 129.6,340.5C130.8,337.5 131.6,331.7 132.6,327.6C133.6,323.5 134.6,319.0 135.6,315.7C136.6,312.4 137.5,310.2 138.5,307.7C139.5,305.2 140.5,301.4 141.5,300.8C142.5,300.2 143.5,302.7 144.5,303.8C145.5,304.9 146.3,306.6 147.5,307.7C148.7,308.8 150.3,309.0 151.5,310.7C152.7,312.4 153.4,315.2 154.4,317.7C155.4,320.2 156.5,323.1 157.4,325.6C158.3,328.1 159.2,330.8 160.0,332.6C160.8,334.4 161.2,333.8 162.0,336.6C162.8,339.4 164.0,344.0 165.0,349.5C166.0,355.0 166.8,361.8 168.0,369.4C169.2,377.0 170.6,387.0 171.9,394.9C173.2,402.8 174.7,410.5 175.9,416.8C177.1,423.1 178.1,428.4 178.9,432.7C179.7,437.0 180.1,440.3 180.9,442.6C181.7,444.9 182.8,445.6 183.9,446.6C185.1,447.6 186.7,448.4 187.8,448.6C189.0,448.8 189.8,448.1 190.8,447.6C191.8,447.1 192.8,444.9 193.8,445.6C194.8,446.3 195.8,449.5 196.8,451.6C197.8,453.8 198.7,456.0 199.8,458.5C201.0,461.0 202.4,463.9 203.7,466.5C205.0,469.1 206.4,472.8 207.7,474.4C209.0,476.0 210.4,476.1 211.7,476.4C213.0,476.7 214.4,475.9 215.7,476.4C217.0,476.9 218.3,478.6 219.6,479.4C220.9,480.2 222.3,480.7 223.6,481.4C224.9,482.1 226.3,482.7 227.6,483.4C228.9,484.1 230.3,484.8 231.6,485.4C232.9,485.9 234.2,486.3 235.5,486.7C236.8,487.1 238.2,488.0 239.5,487.9C240.8,487.8 242.2,487.1 243.5,486.3C244.8,485.6 246.2,484.9 247.5,483.4C248.8,481.9 250.2,480.2 251.5,477.4C252.8,474.6 254.3,471.1 255.4,466.5C256.5,461.9 257.2,454.0 258.0,450.0C258.8,446.0 259.3,444.0 260.0,442.5C260.7,441.0 261.2,443.3 262.0,441.0C262.8,438.7 263.9,432.5 265.0,428.6C266.1,424.7 267.8,418.9 268.9,417.7C270.0,416.5 270.9,419.9 271.9,421.7C272.9,423.5 273.9,426.1 274.9,428.6C275.9,431.1 276.9,434.6 277.9,436.6C278.9,438.6 279.8,439.0 280.8,440.5C281.8,442.0 282.6,443.3 283.8,445.5C285.0,447.7 286.5,451.0 287.8,453.5C289.1,456.0 290.5,459.1 291.8,460.4C293.1,461.7 294.6,461.6 295.7,461.4C296.8,461.2 297.7,458.9 298.7,459.4C299.7,459.9 300.5,462.6 301.7,464.4C302.9,466.2 304.4,468.3 305.7,470.3C307.0,472.3 308.3,474.5 309.6,476.3C310.9,478.1 312.3,480.0 313.6,481.3C314.9,482.6 316.3,483.6 317.6,484.2C318.9,484.8 320.2,485.4 321.5,485.2C322.8,485.0 324.2,484.3 325.5,483.2C326.8,482.1 328.2,480.3 329.5,478.3C330.8,476.3 332.4,472.6 333.5,471.3C334.6,470.0 335.4,470.1 336.4,470.3C337.4,470.5 338.2,471.8 339.4,472.3C340.6,472.8 341.8,473.2 343.4,473.3C345.0,473.4 347.6,472.5 349.3,472.7C351.0,472.9 352.0,474.4 353.3,474.3C354.6,474.2 356.0,473.0 357.3,472.3C358.6,471.6 359.8,470.5 361.3,470.3C362.8,470.1 365.4,471.1 366.2,471.3" fill="none" stroke="#d42a1e" stroke-width="1.5" stroke-linejoin="round" stroke-linecap="round" clip-path="url(#cB)"/>
<path d="M366.0,261.5C367.6,261.1 373.6,260.3 375.9,259.3C378.2,258.3 378.6,257.6 379.9,255.4C381.2,253.2 382.7,250.2 383.9,246.4C385.1,242.6 385.9,235.8 386.9,232.5C387.9,229.2 388.9,227.8 389.9,226.5C390.9,225.2 392.0,224.2 392.8,224.5C393.6,224.8 394.0,229.5 394.8,228.5C395.6,227.5 396.8,223.2 397.8,218.6C398.8,214.0 399.8,206.0 400.8,200.7C401.8,195.4 402.8,190.8 403.8,186.8C404.8,182.8 405.8,179.0 406.8,176.8C407.8,174.6 408.9,174.5 409.7,173.8C410.5,173.1 411.0,171.8 411.7,172.8C412.4,173.8 412.9,177.5 413.7,179.8C414.5,182.1 415.7,185.3 416.7,186.8C417.7,188.3 418.9,188.4 419.7,188.7C420.5,189.0 420.9,187.2 421.7,188.7C422.5,190.2 423.6,195.2 424.6,197.7C425.6,200.2 426.6,202.7 427.6,203.7C428.6,204.7 429.6,202.7 430.6,203.7C431.6,204.7 432.6,208.4 433.6,209.6C434.6,210.8 435.6,212.4 436.6,210.6C437.6,208.8 438.5,202.3 439.6,198.7C440.8,195.0 442.2,193.0 443.5,188.7C444.8,184.4 446.5,178.4 447.5,172.8C448.5,167.2 448.8,163.2 449.5,155.0C450.2,146.8 450.7,130.8 451.5,123.5C452.3,116.2 453.6,115.8 454.5,111.5C455.4,107.2 456.5,101.6 457.1,97.6C457.8,93.6 457.8,89.2 458.4,87.7C458.9,86.2 459.7,88.2 460.4,88.7C461.1,89.2 461.7,90.9 462.4,90.6C463.1,90.3 463.8,88.2 464.4,86.7C465.0,85.2 465.2,84.4 466.0,81.7C466.8,79.0 468.2,72.3 469.0,70.8C469.8,69.3 470.4,71.6 471.0,72.8C471.6,74.0 472.1,77.4 472.9,77.7C473.7,78.0 474.9,74.4 475.9,74.7C476.9,75.0 477.9,77.2 478.9,79.7C479.9,82.2 480.7,86.1 481.9,89.7C483.1,93.3 484.7,98.0 485.9,101.6C487.1,105.2 487.9,106.9 488.9,111.5C489.9,116.1 490.8,123.5 491.8,129.4C492.8,135.3 493.8,142.7 494.8,147.0C495.8,151.3 496.6,152.2 497.8,155.0C499.0,157.8 500.6,161.8 501.8,163.9C503.0,166.1 503.8,168.1 504.8,167.9C505.8,167.7 506.7,165.1 507.7,162.9C508.7,160.8 509.9,157.7 510.7,155.0C511.5,152.3 511.9,151.6 512.7,147.0C513.5,142.4 514.7,134.0 515.7,127.4C516.7,120.8 517.9,111.3 518.7,107.5C519.5,103.7 520.1,104.6 520.7,104.6C521.4,104.6 521.8,107.2 522.6,107.5C523.4,107.8 524.8,107.6 525.6,106.6C526.4,105.6 527.0,103.3 527.6,101.6C528.2,99.9 528.5,95.6 529.2,96.6C529.9,97.6 530.9,104.0 531.6,107.5C532.3,111.0 532.8,115.2 533.6,117.5C534.4,119.8 535.6,120.3 536.6,121.5C537.6,122.7 538.5,123.2 539.5,124.4C540.5,125.6 541.7,127.4 542.5,128.4C543.3,129.4 543.7,131.6 544.5,130.4C545.3,129.2 546.5,123.3 547.5,121.5C548.5,119.7 549.3,119.7 550.5,119.5C551.7,119.3 553.4,120.5 554.5,120.5C555.6,120.5 556.4,119.3 557.4,119.5C558.4,119.7 559.3,120.8 560.4,121.5C561.5,122.2 563.1,123.0 564.0,123.5C564.9,124.0 565.0,124.2 566.0,124.3C567.0,124.4 568.8,124.1 569.9,124.3C571.0,124.5 571.9,127.4 572.9,125.3C573.9,123.2 574.9,115.4 575.9,111.4C576.9,107.4 577.9,101.8 578.9,101.5C579.9,101.2 580.9,109.2 581.9,109.4C582.9,109.6 584.0,105.1 584.8,102.5C585.6,99.9 586.1,96.8 586.8,93.6C587.5,90.4 588.4,83.9 589.2,83.6C590.0,83.3 590.9,88.6 591.8,91.6C592.7,94.6 593.8,98.2 594.8,101.5C595.8,104.8 596.7,108.1 597.7,111.4C598.7,114.7 599.5,119.6 600.7,121.4C601.9,123.2 603.2,121.9 604.7,122.4C606.2,122.9 608.4,122.1 609.7,124.3C611.0,126.5 611.6,131.5 612.6,135.3C613.6,139.1 614.6,143.4 615.6,147.0C616.6,150.6 617.6,154.2 618.6,156.9C619.6,159.6 620.7,161.6 621.6,162.9C622.5,164.2 623.2,164.8 624.0,164.5C624.8,164.2 625.6,162.8 626.5,160.9C627.4,159.0 628.7,155.3 629.5,153.0C630.3,150.7 630.7,150.6 631.5,147.0C632.3,143.4 633.5,137.2 634.5,131.3C635.5,125.4 636.5,116.4 637.5,111.4C638.5,106.4 639.4,103.5 640.4,101.5C641.4,99.5 642.4,102.0 643.4,99.5C644.4,97.0 645.4,88.2 646.4,86.6C647.4,84.9 648.4,88.3 649.4,89.6C650.4,90.9 651.4,92.8 652.4,94.5C653.4,96.2 654.3,100.0 655.3,99.5C656.3,99.0 657.3,91.6 658.3,91.6C659.3,91.6 660.5,97.5 661.3,99.5C662.1,101.5 662.5,104.2 663.3,103.5C664.1,102.8 665.1,94.8 666.2,95.5C667.4,96.2 669.5,105.5 670.2,107.5" fill="none" stroke="#f07a10" stroke-width="1.5" stroke-linejoin="round" stroke-linecap="round" clip-path="url(#cC)"/>
<path d="M366.0,261.5C367.3,261.3 371.9,261.0 374.0,260.3C376.1,259.6 377.4,258.9 378.9,257.3C380.4,255.7 381.7,253.5 382.9,250.4C384.1,247.3 384.9,241.8 385.9,238.5C386.9,235.2 387.9,232.2 388.9,230.5C389.9,228.8 390.6,228.7 391.8,228.5C393.0,228.3 394.6,231.8 395.8,229.5C397.0,227.2 397.9,219.2 398.8,214.6C399.7,210.0 400.4,203.7 401.4,201.7C402.4,199.7 403.8,203.9 404.8,202.7C405.9,201.5 406.7,198.7 407.7,194.7C408.7,190.7 409.8,183.8 410.7,178.8C411.6,173.8 412.5,167.4 413.3,164.9C414.1,162.4 415.0,163.2 415.7,163.9C416.4,164.6 417.0,166.1 417.7,168.9C418.4,171.7 418.9,176.7 419.7,180.8C420.5,184.9 421.7,190.4 422.7,193.7C423.7,197.0 424.6,198.5 425.6,200.7C426.6,202.8 427.6,204.8 428.6,206.6C429.6,208.4 430.6,211.1 431.6,211.6C432.6,212.1 433.6,211.8 434.6,209.6C435.6,207.4 436.6,202.5 437.6,198.7C438.6,194.9 439.5,190.3 440.6,186.8C441.8,183.3 443.4,180.8 444.5,177.8C445.6,174.8 446.8,172.2 447.5,168.9C448.2,165.6 448.4,161.7 448.8,158.0C449.2,154.3 449.4,152.2 449.8,147.0C450.2,141.8 450.7,132.2 451.5,127.0C452.3,121.8 453.5,119.9 454.5,115.5C455.5,111.1 456.8,103.2 457.5,100.6C458.2,97.9 458.4,99.1 459.0,99.6C459.6,100.1 460.3,102.4 461.0,103.6C461.7,104.8 462.4,106.6 463.0,106.6C463.6,106.6 463.9,104.4 464.4,103.6C464.9,102.8 465.2,104.6 466.0,101.6C466.8,98.6 468.0,92.3 469.0,85.7C470.0,79.1 471.2,67.1 472.0,61.8C472.8,56.5 473.2,55.0 473.9,53.9C474.5,52.8 475.2,53.2 475.9,54.9C476.6,56.5 477.2,58.3 477.9,63.8C478.6,69.3 479.2,79.1 479.9,87.7C480.6,96.3 481.2,106.6 481.9,115.5C482.6,124.4 483.4,136.1 483.9,141.3C484.4,146.6 484.4,143.4 484.9,147.0C485.4,150.6 486.2,157.3 486.9,162.9C487.6,168.5 488.1,174.8 488.9,180.8C489.7,186.8 491.0,193.7 491.8,198.7C492.6,203.7 493.1,207.3 493.8,210.6C494.5,213.9 495.0,215.9 495.8,218.6C496.6,221.2 497.8,223.3 498.8,226.5C499.8,229.7 500.8,235.2 501.8,237.5C502.8,239.8 503.7,239.4 504.8,240.4C505.9,241.4 507.6,243.4 508.7,243.4C509.8,243.4 510.7,242.2 511.7,240.4C512.7,238.6 513.7,234.7 514.7,232.5C515.7,230.3 516.7,228.2 517.7,227.5C518.7,226.8 519.7,228.5 520.7,228.5C521.7,228.5 522.5,227.0 523.6,227.5C524.8,228.0 526.3,232.0 527.6,231.5C528.9,231.0 530.3,226.5 531.6,224.5C532.9,222.5 534.4,219.9 535.6,219.6C536.8,219.3 537.6,220.7 538.6,222.5C539.6,224.3 540.5,227.7 541.5,230.5C542.5,233.3 543.5,237.1 544.5,239.4C545.5,241.7 546.3,243.1 547.5,244.4C548.7,245.7 550.5,246.6 551.5,247.4C552.5,248.2 552.7,248.2 553.5,249.4C554.3,250.6 555.4,253.4 556.4,254.4C557.4,255.4 558.1,255.2 559.4,255.4C560.7,255.6 562.7,255.4 564.0,255.4C565.3,255.4 566.0,255.7 567.0,255.2C568.0,254.7 568.9,253.5 569.9,252.2C570.9,250.9 572.1,249.3 572.9,247.3C573.7,245.3 574.2,243.8 574.9,240.3C575.6,236.8 576.3,229.9 576.9,226.4C577.5,222.9 577.7,220.2 578.3,219.5C578.9,218.8 579.7,223.3 580.3,222.5C580.9,221.7 581.3,218.5 581.9,214.5C582.5,210.5 583.1,203.2 583.8,198.6C584.4,194.0 585.1,190.7 585.8,186.7C586.5,182.7 587.1,178.8 587.8,174.8C588.5,170.8 589.2,166.9 589.8,162.9C590.4,158.9 591.0,153.7 591.4,151.0C591.8,148.3 591.8,150.6 592.2,147.0C592.6,143.4 593.2,132.6 593.8,129.3C594.4,126.0 595.1,127.5 595.8,127.3C596.4,127.1 597.1,126.7 597.7,128.3C598.4,130.0 599.0,134.1 599.7,137.2C600.4,140.3 601.0,143.4 601.7,147.0C602.4,150.6 603.0,154.6 603.7,158.9C604.4,163.2 604.9,169.3 605.7,172.8C606.5,176.3 607.7,178.3 608.7,179.8C609.7,181.3 610.8,181.3 611.6,181.8C612.4,182.3 612.8,183.5 613.6,182.7C614.4,181.9 615.6,179.4 616.6,176.8C617.6,174.2 618.8,169.9 619.6,166.9C620.4,163.9 620.9,162.2 621.6,158.9C622.3,155.6 623.0,150.9 623.6,147.0C624.2,143.1 624.5,139.2 625.5,135.3C626.5,131.4 628.2,127.6 629.5,123.3C630.8,119.0 632.2,113.7 633.5,109.4C634.8,105.1 636.4,98.0 637.5,97.5C638.6,97.0 639.4,105.2 640.4,106.5C641.4,107.8 642.4,107.0 643.4,105.5C644.4,104.0 645.4,101.2 646.4,97.5C647.4,93.8 648.4,88.9 649.4,83.6C650.4,78.3 651.4,70.8 652.4,65.8C653.4,60.8 654.3,54.5 655.3,53.8C656.3,53.1 657.3,59.1 658.3,61.8C659.3,64.5 660.3,66.1 661.3,69.7C662.3,73.3 663.5,78.6 664.3,83.6C665.1,88.6 665.6,94.5 666.2,99.5C666.9,104.5 667.5,109.6 668.2,113.4C668.9,117.2 669.9,120.9 670.2,122.4" fill="none" stroke="#24a02c" stroke-width="1.5" stroke-linejoin="round" stroke-linecap="round" clip-path="url(#cC)"/>
<path d="M366.0,492.0C367.6,491.6 373.6,490.8 375.9,489.8C378.2,488.8 378.6,488.0 379.9,485.9C381.2,483.8 382.7,480.7 383.9,476.9C385.1,473.1 385.9,466.3 386.9,463.0C387.9,459.7 388.9,458.3 389.9,457.0C390.9,455.7 392.0,454.7 392.8,455.0C393.6,455.3 394.0,460.0 394.8,459.0C395.6,458.0 396.8,453.7 397.8,449.1C398.8,444.5 399.8,436.5 400.8,431.2C401.8,425.9 402.8,421.3 403.8,417.3C404.8,413.3 405.8,409.5 406.8,407.3C407.8,405.1 408.9,405.0 409.7,404.3C410.5,403.6 411.0,402.3 411.7,403.3C412.4,404.3 412.9,408.0 413.7,410.3C414.5,412.6 415.7,415.8 416.7,417.3C417.7,418.8 418.9,418.9 419.7,419.2C420.5,419.5 420.9,417.7 421.7,419.2C422.5,420.7 423.6,425.7 424.6,428.2C425.6,430.7 426.6,433.2 427.6,434.2C428.6,435.2 429.6,433.2 430.6,434.2C431.6,435.2 432.6,439.0 433.6,440.1C434.6,441.2 435.6,442.9 436.6,441.1C437.6,439.3 438.5,432.9 439.6,429.2C440.8,425.5 442.2,423.5 443.5,419.2C444.8,414.9 446.5,408.9 447.5,403.3C448.5,397.7 448.8,393.7 449.5,385.5C450.2,377.3 450.7,361.2 451.5,354.0C452.3,346.8 453.6,346.3 454.5,342.0C455.4,337.7 456.5,332.1 457.1,328.1C457.8,324.1 457.8,319.7 458.4,318.2C458.9,316.7 459.7,318.7 460.4,319.2C461.1,319.7 461.7,321.4 462.4,321.1C463.1,320.8 463.8,318.7 464.4,317.2C465.0,315.7 465.2,314.8 466.0,312.2C466.8,309.6 468.2,302.8 469.0,301.3C469.8,299.8 470.4,302.2 471.0,303.3C471.6,304.4 472.1,307.9 472.9,308.2C473.7,308.5 474.9,304.9 475.9,305.2C476.9,305.5 477.9,307.7 478.9,310.2C479.9,312.7 480.7,316.5 481.9,320.2C483.1,323.9 484.7,328.5 485.9,332.1C487.1,335.7 487.9,337.4 488.9,342.0C489.9,346.6 490.8,354.0 491.8,359.9C492.8,365.8 493.8,373.2 494.8,377.5C495.8,381.8 496.6,382.7 497.8,385.5C499.0,388.3 500.6,392.2 501.8,394.4C503.0,396.5 503.8,398.6 504.8,398.4C505.8,398.2 506.7,395.5 507.7,393.4C508.7,391.2 509.9,388.1 510.7,385.5C511.5,382.9 511.9,382.1 512.7,377.5C513.5,372.9 514.7,364.5 515.7,357.9C516.7,351.3 517.9,341.8 518.7,338.0C519.5,334.2 520.1,335.1 520.7,335.1C521.4,335.1 521.8,337.7 522.6,338.0C523.4,338.3 524.8,338.1 525.6,337.1C526.4,336.1 527.0,333.8 527.6,332.1C528.2,330.4 528.5,326.1 529.2,327.1C529.9,328.1 530.9,334.5 531.6,338.0C532.3,341.5 532.8,345.7 533.6,348.0C534.4,350.3 535.6,350.9 536.6,352.0C537.6,353.1 538.5,353.8 539.5,354.9C540.5,356.0 541.7,357.9 542.5,358.9C543.3,359.9 543.7,362.0 544.5,360.9C545.3,359.8 546.5,353.8 547.5,352.0C548.5,350.2 549.3,350.2 550.5,350.0C551.7,349.8 553.4,351.0 554.5,351.0C555.6,351.0 556.4,349.8 557.4,350.0C558.4,350.2 559.3,351.3 560.4,352.0C561.5,352.7 563.1,353.5 564.0,354.0C564.9,354.5 565.0,354.7 566.0,354.8C567.0,354.9 568.8,354.6 569.9,354.8C571.0,355.0 571.9,358.0 572.9,355.8C573.9,353.6 574.9,345.9 575.9,341.9C576.9,337.9 577.9,332.3 578.9,332.0C579.9,331.7 580.9,339.7 581.9,339.9C582.9,340.1 584.0,335.6 584.8,333.0C585.6,330.4 586.1,327.2 586.8,324.1C587.5,321.0 588.4,314.4 589.2,314.1C590.0,313.8 590.9,319.1 591.8,322.1C592.7,325.1 593.8,328.7 594.8,332.0C595.8,335.3 596.7,338.6 597.7,341.9C598.7,345.2 599.5,350.1 600.7,351.9C601.9,353.7 603.2,352.4 604.7,352.9C606.2,353.4 608.4,352.6 609.7,354.8C611.0,357.0 611.6,362.0 612.6,365.8C613.6,369.6 614.6,373.9 615.6,377.5C616.6,381.1 617.6,384.8 618.6,387.4C619.6,390.0 620.7,392.1 621.6,393.4C622.5,394.7 623.2,395.3 624.0,395.0C624.8,394.7 625.6,393.3 626.5,391.4C627.4,389.5 628.7,385.8 629.5,383.5C630.3,381.2 630.7,381.1 631.5,377.5C632.3,373.9 633.5,367.7 634.5,361.8C635.5,355.9 636.5,346.9 637.5,341.9C638.5,336.9 639.4,334.0 640.4,332.0C641.4,330.0 642.4,332.5 643.4,330.0C644.4,327.5 645.4,318.8 646.4,317.1C647.4,315.5 648.4,318.8 649.4,320.1C650.4,321.4 651.4,323.4 652.4,325.0C653.4,326.6 654.3,330.5 655.3,330.0C656.3,329.5 657.3,322.1 658.3,322.1C659.3,322.1 660.5,328.0 661.3,330.0C662.1,332.0 662.5,334.7 663.3,334.0C664.1,333.3 665.1,325.3 666.2,326.0C667.4,326.7 669.5,336.0 670.2,338.0" fill="none" stroke="#f07a10" stroke-width="1.5" stroke-linejoin="round" stroke-linecap="round" clip-path="url(#cD)"/>
<path d="M366.0,491.7C367.3,491.5 371.9,491.4 374.0,490.3C376.1,489.2 377.4,488.0 378.9,485.4C380.4,482.8 381.7,477.9 382.9,474.4C384.1,470.9 384.9,467.5 385.9,464.5C386.9,461.5 387.9,458.8 388.9,456.5C389.9,454.2 391.0,452.9 391.8,450.6C392.6,448.3 393.1,443.4 393.8,442.6C394.5,441.8 395.1,446.6 395.8,445.6C396.5,444.6 397.1,439.8 397.8,436.6C398.5,433.5 399.1,430.2 399.8,426.7C400.5,423.2 401.1,417.9 401.8,415.8C402.5,413.7 403.0,413.2 403.8,413.8C404.6,414.4 406.0,418.2 406.8,419.7C407.6,421.2 407.9,422.4 408.7,422.7C409.5,423.0 410.7,421.4 411.7,421.7C412.7,422.0 413.7,425.3 414.7,424.7C415.7,424.1 416.7,418.3 417.7,417.8C418.7,417.3 419.7,419.9 420.7,421.7C421.7,423.5 422.7,426.9 423.7,428.7C424.7,430.5 425.6,431.2 426.6,432.7C427.6,434.2 428.6,435.8 429.6,437.6C430.6,439.4 431.8,442.3 432.6,443.6C433.4,444.9 433.8,446.6 434.6,445.6C435.4,444.6 436.6,440.9 437.6,437.6C438.6,434.3 439.6,429.7 440.6,425.7C441.6,421.7 442.5,417.4 443.5,413.8C444.5,410.2 445.7,408.0 446.5,403.8C447.3,399.6 447.8,393.4 448.5,388.9C449.2,384.4 449.7,383.6 450.5,377.0C451.3,370.4 452.5,357.7 453.5,349.5C454.5,341.3 455.7,333.9 456.5,327.6C457.3,321.3 457.6,315.1 458.4,311.7C459.1,308.3 460.2,306.6 461.0,307.3C461.8,308.0 462.4,312.1 463.0,315.7C463.6,319.2 463.7,328.6 464.4,328.6C465.1,328.6 466.1,318.9 467.0,315.7C467.9,312.5 469.2,310.2 470.0,309.7C470.8,309.2 471.4,312.0 472.0,312.7C472.6,313.4 473.2,313.9 473.9,313.7C474.5,313.5 475.2,309.7 475.9,311.7C476.6,313.7 477.3,320.0 477.9,325.6C478.5,331.2 479.0,338.9 479.5,345.5C480.0,352.1 480.5,360.1 480.9,365.4C481.3,370.6 481.4,371.8 481.9,377.0C482.4,382.2 483.1,390.3 483.9,396.9C484.7,403.5 485.9,410.2 486.9,416.8C487.9,423.4 488.8,430.0 489.8,436.6C490.8,443.2 491.8,450.5 492.8,456.5C493.8,462.5 494.8,468.1 495.8,472.4C496.8,476.7 497.6,480.1 498.8,482.4C500.0,484.6 501.3,485.2 502.8,485.9C504.3,486.6 506.0,486.6 507.7,486.7C509.4,486.8 511.2,486.9 512.7,486.3C514.2,485.8 515.2,484.5 516.7,483.4C518.2,482.2 520.2,479.6 521.7,479.4C523.2,479.2 524.1,482.1 525.6,482.4C527.1,482.7 528.9,481.1 530.6,481.4C532.3,481.7 533.8,483.7 535.6,484.4C537.4,485.1 539.5,484.9 541.5,485.4C543.5,485.9 545.2,486.6 547.5,487.3C549.8,488.0 552.8,488.7 555.5,489.3C558.2,489.9 561.9,490.6 564.0,490.7C566.1,490.8 566.5,490.2 568.0,489.8C569.5,489.4 571.4,489.1 572.9,488.2C574.4,487.3 575.7,486.2 576.9,484.2C578.1,482.2 578.9,479.3 579.9,476.3C580.9,473.3 581.8,468.4 582.8,466.4C583.8,464.4 584.8,465.2 585.8,464.4C586.8,463.6 588.0,461.4 588.8,461.4C589.6,461.4 590.1,462.2 590.8,464.4C591.5,466.5 592.0,471.5 592.8,474.3C593.6,477.1 594.6,479.3 595.8,481.3C596.9,483.3 598.1,484.9 599.7,486.2C601.4,487.5 603.4,488.4 605.7,489.2C608.0,490.0 607.7,490.5 613.6,490.8C619.5,491.1 632.0,491.1 641.4,491.2C650.8,491.3 665.4,491.2 670.2,491.2" fill="none" stroke="#9a4ec4" stroke-width="1.5" stroke-linejoin="round" stroke-linecap="round" clip-path="url(#cD)"/>
<path d="M366.0,491.7C367.7,491.5 373.5,491.5 376.0,490.3C378.5,489.1 379.2,486.9 380.9,484.4C382.5,481.9 384.4,477.7 385.9,475.4C387.4,473.1 388.6,472.9 389.9,470.4C391.2,467.9 392.6,463.6 393.8,460.5C395.0,457.4 396.0,455.2 396.8,451.6C397.6,448.0 398.1,443.1 398.8,438.6C399.5,434.1 400.1,429.2 400.8,424.7C401.5,420.2 402.0,413.8 402.8,411.8C403.6,409.8 404.8,412.0 405.8,412.8C406.8,413.6 407.6,415.7 408.7,416.8C409.8,417.9 411.5,419.4 412.7,419.7C413.9,420.0 414.7,419.1 415.7,418.8C416.7,418.5 417.7,416.8 418.7,417.8C419.7,418.8 420.5,423.9 421.7,424.7C422.9,425.5 424.5,421.5 425.6,422.7C426.8,423.9 427.6,429.4 428.6,431.7C429.6,434.0 430.6,435.6 431.6,436.6C432.6,437.6 433.6,438.1 434.6,437.6C435.6,437.1 436.5,436.5 437.6,433.7C438.8,430.9 440.2,424.7 441.5,420.7C442.8,416.7 444.5,413.1 445.5,409.8C446.5,406.5 446.8,405.0 447.5,400.9C448.2,396.8 449.0,389.0 449.5,385.0C450.0,381.0 449.7,383.6 450.5,377.0C451.3,370.4 453.4,355.1 454.5,345.5C455.6,335.9 456.4,325.5 457.1,319.7C457.8,313.9 458.2,311.7 458.8,310.7C459.4,309.7 459.8,312.2 460.4,313.7C461.0,315.2 461.7,319.0 462.4,319.7C463.1,320.4 463.6,318.7 464.4,317.7C465.2,316.7 466.1,315.0 467.0,313.7C467.9,312.4 469.0,311.2 470.0,309.7C471.0,308.2 472.1,305.4 472.9,304.7C473.7,304.0 474.2,304.2 474.9,305.7C475.6,307.2 476.2,309.7 476.9,313.7C477.6,317.7 478.2,324.3 478.9,329.6C479.6,334.9 480.2,340.2 480.9,345.5C481.6,350.8 482.2,356.1 482.9,361.4C483.6,366.6 484.2,371.8 484.9,377.0C485.6,382.2 486.1,386.9 486.9,392.9C487.7,398.9 488.8,406.2 489.8,412.8C490.8,419.4 491.8,426.7 492.8,432.7C493.8,438.7 494.8,444.0 495.8,448.6C496.8,453.2 497.8,457.2 498.8,460.5C499.8,463.8 500.8,466.4 501.8,468.5C502.8,470.6 503.7,472.2 504.8,473.4C505.9,474.5 507.6,475.1 508.7,475.4C509.8,475.7 510.7,477.2 511.7,475.4C512.7,473.6 513.7,468.3 514.7,464.5C515.7,460.7 516.8,455.5 517.7,452.5C518.6,449.5 519.3,446.6 520.1,446.6C520.9,446.6 521.7,451.0 522.6,452.5C523.5,454.0 524.6,455.8 525.6,455.5C526.6,455.2 527.7,451.9 528.6,450.6C529.5,449.3 530.4,447.4 531.2,447.6C532.0,447.8 532.7,449.1 533.6,451.6C534.5,454.1 535.6,459.5 536.6,462.5C537.6,465.5 538.5,468.6 539.5,469.4C540.5,470.2 541.7,467.8 542.5,467.5C543.3,467.2 543.7,466.4 544.5,467.5C545.3,468.6 546.3,472.9 547.5,474.4C548.7,475.9 550.2,475.4 551.5,476.4C552.8,477.4 554.2,478.9 555.5,480.4C556.8,481.9 558.0,484.2 559.4,485.4C560.8,486.5 562.9,486.8 564.0,487.3C565.1,487.8 565.0,488.4 566.0,488.2C567.0,488.0 568.8,487.2 569.9,486.2C571.0,485.2 572.1,484.5 572.9,482.2C573.7,479.9 574.2,476.9 574.9,472.3C575.6,467.7 576.2,459.7 576.9,454.4C577.6,449.1 578.1,444.0 578.9,440.5C579.7,437.0 581.1,435.1 581.9,433.6C582.7,432.1 583.1,433.1 583.8,431.6C584.4,430.1 585.1,429.5 585.8,424.7C586.5,419.9 587.2,408.4 587.8,402.8C588.4,397.2 588.9,393.5 589.4,390.9C589.9,388.2 590.2,386.6 590.8,386.9C591.4,387.2 592.1,389.9 592.8,392.9C593.5,395.9 594.0,400.8 594.8,404.8C595.6,408.8 596.7,412.4 597.7,416.7C598.7,421.0 599.7,426.3 600.7,430.6C601.7,434.9 602.7,439.5 603.7,442.5C604.7,445.5 605.7,446.2 606.7,448.5C607.7,450.8 608.7,453.8 609.7,456.4C610.7,459.0 611.6,461.9 612.6,464.4C613.6,466.9 614.4,469.3 615.6,471.3C616.8,473.3 618.3,474.5 619.6,476.3C620.9,478.1 622.3,480.6 623.6,482.2C624.9,483.8 626.2,485.5 627.5,486.2C628.8,486.9 630.3,486.9 631.5,486.2C632.7,485.5 633.5,484.2 634.5,482.2C635.5,480.2 636.5,475.8 637.5,474.3C638.5,472.8 639.4,473.1 640.4,473.3C641.4,473.5 642.4,474.6 643.4,475.3C644.4,476.0 645.4,477.3 646.4,477.3C647.4,477.3 648.2,475.8 649.4,475.3C650.5,474.8 652.0,474.5 653.3,474.3C654.6,474.1 656.1,473.6 657.3,474.3C658.5,475.0 659.3,477.5 660.3,478.3C661.3,479.1 662.3,478.8 663.3,479.3C664.3,479.8 665.1,481.6 666.2,481.3C667.4,481.0 669.5,478.0 670.2,477.3" fill="none" stroke="#d42a1e" stroke-width="1.5" stroke-linejoin="round" stroke-linecap="round" clip-path="url(#cD)"/>
<line x1="162.2" y1="31.9" x2="162.2" y2="492.2" stroke="#7dd3cc" stroke-width="1.3" stroke-opacity="0.9"/>
<line x1="171.1" y1="31.9" x2="171.1" y2="492.2" stroke="#88cfe6" stroke-width="1.3" stroke-opacity="0.9"/>
<line x1="180.2" y1="31.9" x2="180.2" y2="492.2" stroke="#82bde6" stroke-width="1.3" stroke-opacity="0.9"/>
<line x1="198.4" y1="31.9" x2="198.4" y2="492.2" stroke="#6a8fc6" stroke-width="1.3" stroke-opacity="0.9"/>
<line x1="225.5" y1="31.9" x2="225.5" y2="492.2" stroke="#4b40a8" stroke-width="1.3" stroke-opacity="0.9"/>
<line x1="466.4" y1="31.9" x2="466.4" y2="492.2" stroke="#7dd3cc" stroke-width="1.3" stroke-opacity="0.9"/>
<line x1="475.3" y1="31.9" x2="475.3" y2="492.2" stroke="#88cfe6" stroke-width="1.3" stroke-opacity="0.9"/>
<line x1="484.5" y1="31.9" x2="484.5" y2="492.2" stroke="#82bde6" stroke-width="1.3" stroke-opacity="0.9"/>
<line x1="493.6" y1="31.9" x2="493.6" y2="492.2" stroke="#6a8fc6" stroke-width="1.3" stroke-opacity="0.9"/>
<line x1="502.6" y1="31.9" x2="502.6" y2="492.2" stroke="#4b40a8" stroke-width="1.3" stroke-opacity="0.9"/>
<line x1="272.9" y1="261.7" x2="272.9" y2="492.2" stroke="#6ecdc6" stroke-width="1.6" stroke-dasharray="3.3,1.6" stroke-dashoffset="-0.7" stroke-opacity="0.95"/>
<line x1="281.8" y1="261.7" x2="281.8" y2="492.2" stroke="#92d4e6" stroke-width="1.6" stroke-dasharray="3.3,1.6" stroke-dashoffset="-0.7" stroke-opacity="0.95"/>
<line x1="291.2" y1="261.7" x2="291.2" y2="492.2" stroke="#7dbde3" stroke-width="1.6" stroke-dasharray="3.3,1.6" stroke-dashoffset="-0.7" stroke-opacity="0.95"/>
<line x1="310.0" y1="261.7" x2="310.0" y2="492.2" stroke="#8cabd4" stroke-width="1.6" stroke-dasharray="3.3,1.6" stroke-dashoffset="-0.7" stroke-opacity="0.95"/>
<line x1="337.0" y1="261.7" x2="337.0" y2="492.2" stroke="#4a40aa" stroke-width="1.6" stroke-dasharray="3.3,1.6" stroke-dashoffset="-0.7" stroke-opacity="0.95"/>
<line x1="577.9" y1="261.7" x2="577.9" y2="492.2" stroke="#6ecdc6" stroke-width="1.6" stroke-dasharray="3.3,1.6" stroke-dashoffset="-0.7" stroke-opacity="0.95"/>
<line x1="586.8" y1="261.7" x2="586.8" y2="492.2" stroke="#92d4e6" stroke-width="1.6" stroke-dasharray="3.3,1.6" stroke-dashoffset="-0.7" stroke-opacity="0.95"/>
<line x1="595.8" y1="261.7" x2="595.8" y2="492.2" stroke="#7dbde3" stroke-width="1.6" stroke-dasharray="3.3,1.6" stroke-dashoffset="-0.7" stroke-opacity="0.95"/>
<line x1="604.7" y1="261.7" x2="604.7" y2="492.2" stroke="#8cabd4" stroke-width="1.6" stroke-dasharray="3.3,1.6" stroke-dashoffset="-0.7" stroke-opacity="0.95"/>
<line x1="614.0" y1="261.7" x2="614.0" y2="492.2" stroke="#4a40aa" stroke-width="1.6" stroke-dasharray="3.3,1.6" stroke-dashoffset="-0.7" stroke-opacity="0.95"/>
<g stroke="#9a9a9a" stroke-width="1.5" fill="none">
<rect x="61.9" y="31.9" width="608.5" height="460.3"/>
<line x1="61.9" y1="261.7" x2="670.4" y2="261.7" stroke="#8e8e8e" stroke-width="2.1"/>
<line x1="366.0" y1="31.9" x2="366.0" y2="492.2"/>
</g>
<g stroke="#444" stroke-width="1"><line x1="59.5" y1="261.7" x2="61.9" y2="261.7"/><line x1="363.6" y1="261.7" x2="366.0" y2="261.7"/><line x1="59.5" y1="230.6" x2="61.9" y2="230.6"/><line x1="363.6" y1="230.6" x2="366.0" y2="230.6"/><line x1="59.5" y1="199.5" x2="61.9" y2="199.5"/><line x1="363.6" y1="199.5" x2="366.0" y2="199.5"/><line x1="59.5" y1="168.4" x2="61.9" y2="168.4"/><line x1="363.6" y1="168.4" x2="366.0" y2="168.4"/><line x1="59.5" y1="137.3" x2="61.9" y2="137.3"/><line x1="363.6" y1="137.3" x2="366.0" y2="137.3"/><line x1="59.5" y1="106.2" x2="61.9" y2="106.2"/><line x1="363.6" y1="106.2" x2="366.0" y2="106.2"/><line x1="59.5" y1="75.1" x2="61.9" y2="75.1"/><line x1="363.6" y1="75.1" x2="366.0" y2="75.1"/><line x1="59.5" y1="44.0" x2="61.9" y2="44.0"/><line x1="363.6" y1="44.0" x2="366.0" y2="44.0"/><line x1="59.5" y1="492.2" x2="61.9" y2="492.2"/><line x1="363.6" y1="492.2" x2="366.0" y2="492.2"/><line x1="59.5" y1="461.1" x2="61.9" y2="461.1"/><line x1="363.6" y1="461.1" x2="366.0" y2="461.1"/><line x1="59.5" y1="430.0" x2="61.9" y2="430.0"/><line x1="363.6" y1="430.0" x2="366.0" y2="430.0"/><line x1="59.5" y1="398.9" x2="61.9" y2="398.9"/><line x1="363.6" y1="398.9" x2="366.0" y2="398.9"/><line x1="59.5" y1="367.8" x2="61.9" y2="367.8"/><line x1="363.6" y1="367.8" x2="366.0" y2="367.8"/><line x1="59.5" y1="336.7" x2="61.9" y2="336.7"/><line x1="363.6" y1="336.7" x2="366.0" y2="336.7"/><line x1="59.5" y1="305.6" x2="61.9" y2="305.6"/><line x1="363.6" y1="305.6" x2="366.0" y2="305.6"/><line x1="59.5" y1="274.5" x2="61.9" y2="274.5"/><line x1="363.6" y1="274.5" x2="366.0" y2="274.5"/><line x1="62.3" y1="492.2" x2="62.3" y2="494.59999999999997"/><line x1="123.0" y1="492.2" x2="123.0" y2="494.59999999999997"/><line x1="183.8" y1="492.2" x2="183.8" y2="494.59999999999997"/><line x1="244.5" y1="492.2" x2="244.5" y2="494.59999999999997"/><line x1="305.3" y1="492.2" x2="305.3" y2="494.59999999999997"/><line x1="366.0" y1="492.2" x2="366.0" y2="494.59999999999997"/><line x1="366.5" y1="492.2" x2="366.5" y2="494.59999999999997"/><line x1="427.2" y1="492.2" x2="427.2" y2="494.59999999999997"/><line x1="488.0" y1="492.2" x2="488.0" y2="494.59999999999997"/><line x1="548.7" y1="492.2" x2="548.7" y2="494.59999999999997"/><line x1="609.5" y1="492.2" x2="609.5" y2="494.59999999999997"/><line x1="670.2" y1="492.2" x2="670.2" y2="494.59999999999997"/><line x1="162.2" y1="29.5" x2="162.2" y2="31.9"/><line x1="171.1" y1="29.5" x2="171.1" y2="31.9"/><line x1="180.2" y1="29.5" x2="180.2" y2="31.9"/><line x1="198.4" y1="29.5" x2="198.4" y2="31.9"/><line x1="225.5" y1="29.5" x2="225.5" y2="31.9"/><line x1="272.9" y1="29.5" x2="272.9" y2="31.9"/><line x1="281.8" y1="29.5" x2="281.8" y2="31.9"/><line x1="291.2" y1="29.5" x2="291.2" y2="31.9"/><line x1="310.0" y1="29.5" x2="310.0" y2="31.9"/><line x1="337.0" y1="29.5" x2="337.0" y2="31.9"/><line x1="466.4" y1="29.5" x2="466.4" y2="31.9"/><line x1="475.3" y1="29.5" x2="475.3" y2="31.9"/><line x1="484.5" y1="29.5" x2="484.5" y2="31.9"/><line x1="493.6" y1="29.5" x2="493.6" y2="31.9"/><line x1="502.6" y1="29.5" x2="502.6" y2="31.9"/><line x1="577.9" y1="29.5" x2="577.9" y2="31.9"/><line x1="586.8" y1="29.5" x2="586.8" y2="31.9"/><line x1="595.8" y1="29.5" x2="595.8" y2="31.9"/><line x1="604.7" y1="29.5" x2="604.7" y2="31.9"/><line x1="614.0" y1="29.5" x2="614.0" y2="31.9"/></g>
<text x="56.6" y="266.9" font-size="12.2" fill="#222" text-anchor="end" textLength="25.8" lengthAdjust="spacingAndGlyphs">0.00</text>
<text x="56.6" y="235.8" font-size="12.2" fill="#222" text-anchor="end" textLength="25.8" lengthAdjust="spacingAndGlyphs">0.25</text>
<text x="56.6" y="204.7" font-size="12.2" fill="#222" text-anchor="end" textLength="25.8" lengthAdjust="spacingAndGlyphs">0.50</text>
<text x="56.6" y="173.6" font-size="12.2" fill="#222" text-anchor="end" textLength="25.8" lengthAdjust="spacingAndGlyphs">0.75</text>
<text x="56.6" y="142.5" font-size="12.2" fill="#222" text-anchor="end" textLength="25.8" lengthAdjust="spacingAndGlyphs">1.00</text>
<text x="56.6" y="111.4" font-size="12.2" fill="#222" text-anchor="end" textLength="25.8" lengthAdjust="spacingAndGlyphs">1.25</text>
<text x="56.6" y="80.3" font-size="12.2" fill="#222" text-anchor="end" textLength="25.8" lengthAdjust="spacingAndGlyphs">1.50</text>
<text x="56.6" y="49.2" font-size="12.2" fill="#222" text-anchor="end" textLength="25.8" lengthAdjust="spacingAndGlyphs">1.75</text>
<text x="56.6" y="497.4" font-size="12.2" fill="#222" text-anchor="end" textLength="25.8" lengthAdjust="spacingAndGlyphs">0.00</text>
<text x="56.6" y="466.3" font-size="12.2" fill="#222" text-anchor="end" textLength="25.8" lengthAdjust="spacingAndGlyphs">0.25</text>
<text x="56.6" y="435.2" font-size="12.2" fill="#222" text-anchor="end" textLength="25.8" lengthAdjust="spacingAndGlyphs">0.50</text>
<text x="56.6" y="404.1" font-size="12.2" fill="#222" text-anchor="end" textLength="25.8" lengthAdjust="spacingAndGlyphs">0.75</text>
<text x="56.6" y="373.0" font-size="12.2" fill="#222" text-anchor="end" textLength="25.8" lengthAdjust="spacingAndGlyphs">1.00</text>
<text x="56.6" y="341.9" font-size="12.2" fill="#222" text-anchor="end" textLength="25.8" lengthAdjust="spacingAndGlyphs">1.25</text>
<text x="56.6" y="310.8" font-size="12.2" fill="#222" text-anchor="end" textLength="25.8" lengthAdjust="spacingAndGlyphs">1.50</text>
<text x="56.6" y="279.7" font-size="12.2" fill="#222" text-anchor="end" textLength="25.8" lengthAdjust="spacingAndGlyphs">1.75</text>
<text x="62.3" y="505.6" font-size="12.2" fill="#222" text-anchor="middle" textLength="7.6" lengthAdjust="spacingAndGlyphs">0</text>
<text x="123.0" y="505.6" font-size="12.2" fill="#222" text-anchor="middle" textLength="21.6" lengthAdjust="spacingAndGlyphs">200</text>
<text x="183.8" y="505.6" font-size="12.2" fill="#222" text-anchor="middle" textLength="21.6" lengthAdjust="spacingAndGlyphs">400</text>
<text x="244.5" y="505.6" font-size="12.2" fill="#222" text-anchor="middle" textLength="21.6" lengthAdjust="spacingAndGlyphs">600</text>
<text x="305.3" y="505.6" font-size="12.2" fill="#222" text-anchor="middle" textLength="21.6" lengthAdjust="spacingAndGlyphs">800</text>
<text x="366.5" y="505.6" font-size="12.2" fill="#222" text-anchor="middle" textLength="7.6" lengthAdjust="spacingAndGlyphs">0</text>
<text x="427.2" y="505.6" font-size="12.2" fill="#222" text-anchor="middle" textLength="21.6" lengthAdjust="spacingAndGlyphs">200</text>
<text x="488.0" y="505.6" font-size="12.2" fill="#222" text-anchor="middle" textLength="21.6" lengthAdjust="spacingAndGlyphs">400</text>
<text x="548.7" y="505.6" font-size="12.2" fill="#222" text-anchor="middle" textLength="21.6" lengthAdjust="spacingAndGlyphs">600</text>
<text x="609.5" y="505.6" font-size="12.2" fill="#222" text-anchor="middle" textLength="21.6" lengthAdjust="spacingAndGlyphs">800</text>
<text x="670.2" y="505.6" font-size="12.2" fill="#222" text-anchor="middle" textLength="29.0" lengthAdjust="spacingAndGlyphs">1000</text>
<text x="162.2" y="24.8" font-size="10.8" fill="#222" text-anchor="middle" textLength="6.6" lengthAdjust="spacingAndGlyphs">1</text>
<text x="171.1" y="24.8" font-size="10.8" fill="#222" text-anchor="middle" textLength="6.6" lengthAdjust="spacingAndGlyphs">2</text>
<text x="180.2" y="24.8" font-size="10.8" fill="#222" text-anchor="middle" textLength="6.6" lengthAdjust="spacingAndGlyphs">3</text>
<text x="198.4" y="24.8" font-size="10.8" fill="#222" text-anchor="middle" textLength="6.6" lengthAdjust="spacingAndGlyphs">4</text>
<text x="225.5" y="24.8" font-size="10.8" fill="#222" text-anchor="middle" textLength="6.6" lengthAdjust="spacingAndGlyphs">5</text>
<text x="272.9" y="24.8" font-size="10.8" fill="#222" text-anchor="middle" textLength="6.6" lengthAdjust="spacingAndGlyphs">1</text>
<text x="281.8" y="24.8" font-size="10.8" fill="#222" text-anchor="middle" textLength="6.6" lengthAdjust="spacingAndGlyphs">2</text>
<text x="291.2" y="24.8" font-size="10.8" fill="#222" text-anchor="middle" textLength="6.6" lengthAdjust="spacingAndGlyphs">3</text>
<text x="310.0" y="24.8" font-size="10.8" fill="#222" text-anchor="middle" textLength="6.6" lengthAdjust="spacingAndGlyphs">4</text>
<text x="337.0" y="24.8" font-size="10.8" fill="#222" text-anchor="middle" textLength="6.6" lengthAdjust="spacingAndGlyphs">5</text>
<text x="466.4" y="24.8" font-size="10.8" fill="#222" text-anchor="middle" textLength="6.6" lengthAdjust="spacingAndGlyphs">1</text>
<text x="475.3" y="24.8" font-size="10.8" fill="#222" text-anchor="middle" textLength="6.6" lengthAdjust="spacingAndGlyphs">2</text>
<text x="484.5" y="24.8" font-size="10.8" fill="#222" text-anchor="middle" textLength="6.6" lengthAdjust="spacingAndGlyphs">3</text>
<text x="493.6" y="24.8" font-size="10.8" fill="#222" text-anchor="middle" textLength="6.6" lengthAdjust="spacingAndGlyphs">4</text>
<text x="502.6" y="24.8" font-size="10.8" fill="#222" text-anchor="middle" textLength="6.6" lengthAdjust="spacingAndGlyphs">5</text>
<text x="577.9" y="24.8" font-size="10.8" fill="#222" text-anchor="middle" textLength="6.6" lengthAdjust="spacingAndGlyphs">1</text>
<text x="586.8" y="24.8" font-size="10.8" fill="#222" text-anchor="middle" textLength="6.6" lengthAdjust="spacingAndGlyphs">2</text>
<text x="595.8" y="24.8" font-size="10.8" fill="#222" text-anchor="middle" textLength="6.6" lengthAdjust="spacingAndGlyphs">3</text>
<text x="604.7" y="24.8" font-size="10.8" fill="#222" text-anchor="middle" textLength="6.6" lengthAdjust="spacingAndGlyphs">4</text>
<text x="614.0" y="24.8" font-size="10.8" fill="#222" text-anchor="middle" textLength="6.6" lengthAdjust="spacingAndGlyphs">5</text>
<text x="213.4" y="11.8" font-size="15.2" font-weight="bold" text-anchor="middle" textLength="80" lengthAdjust="spacingAndGlyphs">Argentina</text>
<text x="518.2" y="11.8" font-size="15.2" font-weight="bold" text-anchor="middle" textLength="56.5" lengthAdjust="spacingAndGlyphs">Mexico</text>
<text x="63.4" y="25.6" font-size="13.4" font-weight="bold" textLength="42.6" lengthAdjust="spacingAndGlyphs">Stage</text>
<line x1="112.4" y1="21.4" x2="133.0" y2="21.4" stroke="#111" stroke-width="1.8" stroke-linecap="round"/>
<polygon points="132.2,15.2 140.5,21.4 132.2,27.8" fill="#111"/>
<text x="368.0" y="25.6" font-size="13.4" font-weight="bold" textLength="42.6" lengthAdjust="spacingAndGlyphs">Stage</text>
<line x1="417.0" y1="21.4" x2="437.6" y2="21.4" stroke="#111" stroke-width="1.8" stroke-linecap="round"/>
<polygon points="436.8,15.2 445.1,21.4 436.8,27.8" fill="#111"/>
<text x="214.2" y="519.6" font-size="13.9" font-weight="bold" text-anchor="middle" textLength="88" lengthAdjust="spacingAndGlyphs">Time (days)</text>
<text x="518.4" y="519.6" font-size="13.9" font-weight="bold" text-anchor="middle" textLength="88" lengthAdjust="spacingAndGlyphs">Time (days)</text>
<text transform="translate(11.4,149.0) rotate(-90)" x="0" y="0" font-size="13.9" font-weight="bold" text-anchor="middle" textLength="118.5" lengthAdjust="spacingAndGlyphs">Daily Cases/1e4</text>
<text transform="translate(25.3,144.5) rotate(-90)" x="0" y="0" font-size="13.9" font-weight="bold" text-anchor="middle" textLength="45.5" lengthAdjust="spacingAndGlyphs">1 year</text>
<text transform="translate(11.4,379.0) rotate(-90)" x="0" y="0" font-size="13.9" font-weight="bold" text-anchor="middle" textLength="118.5" lengthAdjust="spacingAndGlyphs">Daily Cases/1e4</text>
<text transform="translate(25.3,374.5) rotate(-90)" x="0" y="0" font-size="13.9" font-weight="bold" text-anchor="middle" textLength="55.0" lengthAdjust="spacingAndGlyphs">2 years</text>
<text x="65.2" y="58.6" font-size="15.2" font-weight="bold" textLength="22.5" lengthAdjust="spacingAndGlyphs">(A)</text>
<text x="65.2" y="279.4" font-size="15.2" font-weight="bold" textLength="22.5" lengthAdjust="spacingAndGlyphs">(B)</text>
<text x="369.6" y="58.6" font-size="15.2" font-weight="bold" textLength="22.5" lengthAdjust="spacingAndGlyphs">(C)</text>
<text x="369.6" y="279.4" font-size="15.2" font-weight="bold" textLength="22.5" lengthAdjust="spacingAndGlyphs">(D)</text>
<rect x="39.5" y="536.4" width="592" height="40.9" rx="2.5" ry="2.5" fill="#fff" stroke="#dcdcdc" stroke-width="1"/>
<line x1="43.4" y1="546.1" x2="72.3" y2="546.1" stroke="#24a02c" stroke-width="2.4"/>
<line x1="43.4" y1="564.6" x2="72.3" y2="564.6" stroke="#d42a1e" stroke-width="2.4"/>
<line x1="378.0" y1="546.1" x2="406.9" y2="546.1" stroke="#9a4ec4" stroke-width="2.4"/>
<line x1="378.0" y1="564.6" x2="406.9" y2="564.6" stroke="#f07a10" stroke-width="2.4"/>
<text x="82.6" y="551.7" font-size="13.4" font-weight="bold" textLength="261.5" lengthAdjust="spacingAndGlyphs">Homogeneous distribution - 1 year</text>
<text x="82.6" y="570.2" font-size="13.4" font-weight="bold" textLength="269.2" lengthAdjust="spacingAndGlyphs">Homogeneous distribution - 2 years</text>
<text x="417.1" y="551.7" font-size="13.4" font-weight="bold" textLength="209.8" lengthAdjust="spacingAndGlyphs">High density cities - 2 years</text>
<text x="417.1" y="570.2" font-size="13.4" font-weight="bold" textLength="89.2" lengthAdjust="spacingAndGlyphs">No vaccines</text>
</svg></body></html>
